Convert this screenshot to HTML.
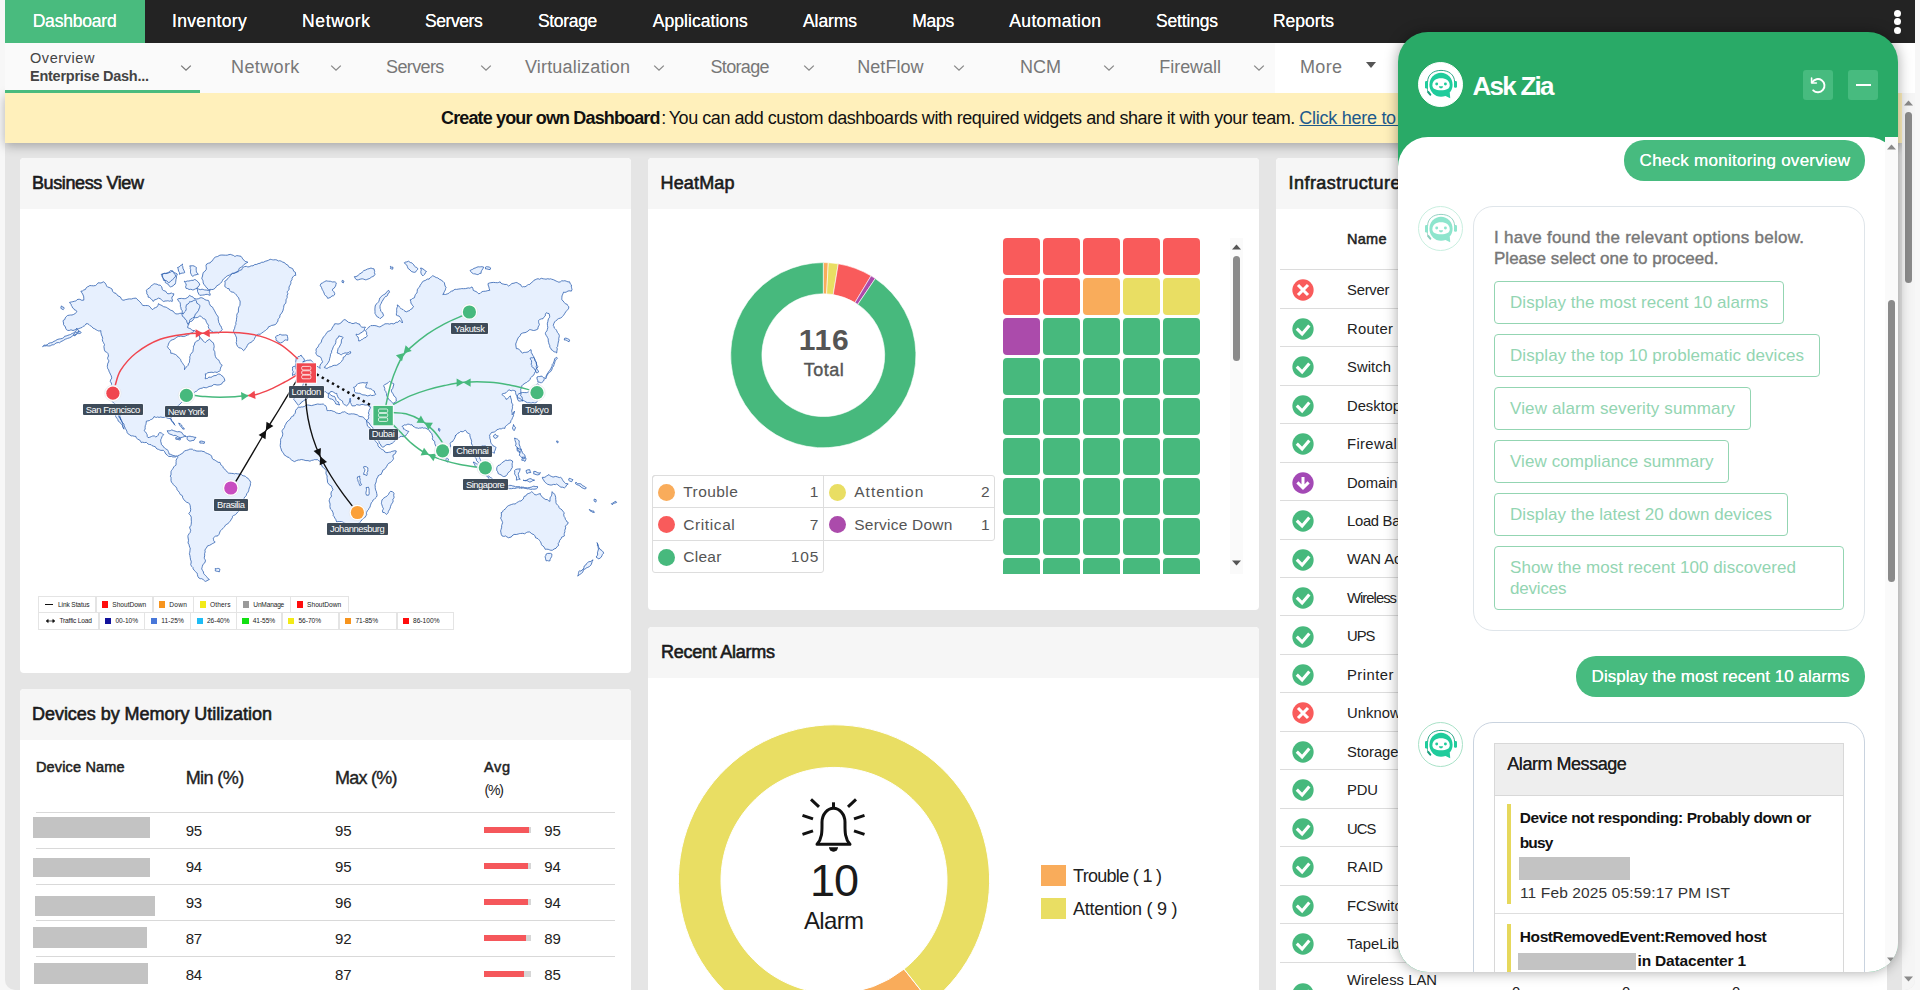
<!DOCTYPE html><html><head><meta charset="utf-8"><title>Dashboard</title><style>
html,body{margin:0;padding:0}
body{width:1920px;height:990px;overflow:hidden;position:relative;background:#f7f7f7;font-family:"Liberation Sans",sans-serif;}
.a{position:absolute;box-sizing:border-box}
.t{position:absolute;white-space:pre}
svg{position:absolute;overflow:visible}
.panel{position:absolute;background:#fff;border-radius:4px;overflow:hidden}
.ph{position:absolute;left:0;top:0;right:0;height:51px;background:#f6f6f6}
</style></head><body>
<div class="a" style="left:5px;top:0;width:1910px;height:990px;background:#e5e5e5;border-radius:0 0 10px 10px;overflow:hidden"></div>
<div class="panel" style="left:20px;top:158px;width:611px;height:515px"><div class="ph"></div></div>
<span class="t" style="left:32.00px;top:174.26px;font-size:18px;line-height:18px;color:#1b1b1b;letter-spacing:-0.395px;-webkit-text-stroke:.6px #1b1b1b;">Business View</span>
<div class="panel" style="left:20px;top:689px;width:611px;height:320px"><div class="ph"></div></div>
<span class="t" style="left:32.00px;top:705.26px;font-size:18px;line-height:18px;color:#1b1b1b;letter-spacing:-0.039px;-webkit-text-stroke:.6px #1b1b1b;">Devices by Memory Utilization</span>
<div class="panel" style="left:648px;top:158px;width:611px;height:452px"><div class="ph"></div></div>
<span class="t" style="left:660.50px;top:174.26px;font-size:18px;line-height:18px;color:#1b1b1b;letter-spacing:0.159px;-webkit-text-stroke:.6px #1b1b1b;">HeatMap</span>
<div class="panel" style="left:648px;top:627px;width:611px;height:380px"><div class="ph"></div></div>
<span class="t" style="left:661.00px;top:643.26px;font-size:18px;line-height:18px;color:#1b1b1b;letter-spacing:-0.254px;-webkit-text-stroke:.6px #1b1b1b;">Recent Alarms</span>
<div class="panel" style="left:1276px;top:158px;width:611px;height:850px"><div class="ph"></div></div>
<span class="t" style="left:1288.50px;top:174.26px;font-size:18px;line-height:18px;color:#1b1b1b;letter-spacing:0.458px;-webkit-text-stroke:.6px #1b1b1b;">Infrastructure</span>
<svg style="left:0;top:0" width="1920" height="990"><g fill="#e7f0fe" stroke="#2d5fb0" stroke-width="0.8" stroke-linejoin="round"><path d="M100.9 330.7L99.6 330.9L98.3 330.9L97.5 330.5L96.2 329.8L94.5 328.7L93.1 328.2L91.5 326.4L90.4 325.9L89.1 324.6L87.6 323.7L86.0 323.8L85.3 325.1L84.5 325.8L83.2 326.3L82.3 327.3L80.3 328.1L78.7 328.6L77.5 329.2L76.4 329.6L76.1 330.6L75.0 332.0L73.7 332.8L72.6 333.3L71.3 333.9L70.5 334.5L69.4 334.8L67.9 335.3L66.1 336.0L64.7 336.2L63.4 337.9L62.3 338.4L60.2 338.9L59.1 339.0L57.1 339.6L55.3 340.8L54.1 341.3L52.9 342.0L52.0 342.7L50.4 342.8L48.8 343.3L48.1 343.8L47.1 344.9L45.5 345.2L44.4 345.1L43.5 345.7L42.6 346.7L43.8 345.9L45.9 345.9L46.8 345.7L48.3 346.0L50.2 345.9L52.0 344.8L53.4 344.8L54.3 344.4L55.1 343.8L56.1 343.0L58.3 342.5L59.6 342.8L60.9 341.6L63.2 340.6L63.9 340.1L65.3 339.2L66.3 338.9L67.5 338.4L69.5 337.8L71.5 336.9L72.4 335.8L73.5 335.5L74.7 334.9L76.1 334.4L77.4 333.0L78.2 332.2L79.1 330.7L78.0 330.0L77.3 329.4L76.9 328.1L75.8 329.4L74.8 329.9L73.0 330.5L71.0 329.8L69.2 330.5L67.5 330.3L66.5 329.7L65.8 328.5L65.2 326.4L64.0 325.5L63.5 324.6L63.6 323.0L63.2 321.9L63.2 320.4L64.8 319.5L65.2 317.9L66.2 316.7L67.5 315.5L69.2 315.2L70.4 315.0L72.0 315.0L73.7 314.4L75.3 313.4L76.3 312.5L76.9 311.3L75.8 310.3L74.7 310.1L73.7 308.5L72.6 307.9L72.0 306.4L71.4 305.6L71.2 304.3L70.5 303.8L69.5 302.4L71.6 301.9L72.8 301.7L74.6 301.2L75.7 301.1L76.9 299.8L78.0 299.3L79.8 299.3L81.0 299.9L81.8 300.3L83.8 300.1L83.8 298.2L83.6 296.1L83.0 295.0L82.7 294.0L81.8 292.8L80.9 291.2L82.4 291.0L83.7 290.0L85.4 289.5L85.9 288.2L87.5 286.8L89.0 286.2L89.8 285.5L91.5 285.7L93.5 285.8L95.6 285.5L97.3 283.9L98.1 282.8L101.0 283.0L103.5 281.8L104.7 282.6L105.9 284.2L106.2 285.1L106.8 286.3L107.5 287.0L109.1 287.4L110.5 288.1L112.1 289.1L112.5 291.2L113.3 292.0L114.1 292.9L116.0 293.4L117.3 295.0L118.1 296.0L119.0 296.3L120.3 296.9L121.4 298.8L122.4 300.1L124.0 300.2L125.5 299.6L126.9 299.4L127.9 299.1L129.3 298.9L131.4 299.0L133.3 298.4L135.1 298.2L136.1 298.1L137.0 299.2L138.1 300.1L139.0 301.0L139.9 301.8L141.3 303.4L141.8 304.5L142.9 305.4L144.1 305.6L145.5 305.5L147.7 305.6L148.6 305.8L149.9 306.7L150.8 307.9L151.8 309.1L152.8 309.6L154.0 308.2L155.5 307.6L156.8 307.1L157.9 305.6L158.5 303.6L159.9 304.7L160.9 305.0L162.0 305.6L163.6 306.7L165.2 307.0L166.5 307.3L167.2 308.0L169.0 309.0L170.5 310.1L171.9 310.6L173.1 311.1L174.2 312.7L175.9 313.9L177.3 313.9L178.2 313.9L179.6 313.4L181.3 313.2L183.3 313.9L184.4 312.1L185.4 311.2L186.1 309.8L186.2 308.6L185.9 307.5L186.2 305.9L186.5 304.7L188.1 304.0L189.2 302.8L189.7 301.5L190.6 301.8L192.0 301.5L193.6 300.5L195.4 299.8L196.4 301.1L196.8 303.2L198.4 304.0L199.7 305.3L199.8 306.7L199.5 307.8L198.9 309.0L198.4 310.7L197.2 312.1L196.6 313.2L195.4 313.9L195.1 314.9L194.6 316.3L194.2 318.2L192.9 320.1L191.9 321.2L190.7 321.4L189.7 322.1L188.8 323.4L188.7 324.7L187.9 325.9L187.6 327.6L189.5 328.4L190.3 328.6L191.4 329.6L192.4 330.3L194.5 330.7L195.4 331.8L196.5 332.4L197.4 332.7L198.7 334.2L199.1 335.3L199.7 336.7L200.3 338.0L201.9 339.0L202.4 340.3L203.9 341.4L205.2 342.7L205.7 342.0L206.9 341.0L208.1 340.1L209.4 339.3L210.2 339.8L211.2 341.2L212.2 342.1L213.1 342.5L213.7 343.9L214.0 345.3L214.2 346.6L213.8 348.5L213.7 349.9L214.8 351.7L214.9 352.8L215.0 354.9L215.4 356.4L216.2 358.1L217.8 359.5L218.9 360.2L219.4 361.5L220.3 363.5L221.1 364.6L222.3 365.4L221.0 366.6L220.6 368.2L220.2 369.5L220.3 370.5L219.1 371.4L218.2 371.6L217.1 372.5L215.7 372.1L214.5 372.1L213.3 372.6L212.0 372.2L209.9 372.4L207.8 372.7L206.5 373.8L205.2 373.9L205.5 374.9L205.5 376.7L205.2 378.8L206.3 378.5L207.5 378.4L208.9 377.1L210.4 377.3L212.0 377.0L212.7 376.3L214.0 375.7L216.1 375.5L217.6 374.4L218.9 373.9L220.6 374.6L221.9 375.8L223.1 376.6L223.8 377.7L224.4 378.8L224.9 380.8L222.5 382.4L221.8 383.9L220.9 384.3L219.2 384.9L217.0 385.0L214.8 384.5L213.4 384.7L212.0 386.0L210.9 386.2L209.1 386.5L207.7 387.2L206.7 387.7L205.2 387.7L203.3 387.4L202.2 388.2L200.8 388.3L199.9 388.7L198.3 389.4L197.6 390.3L196.4 391.3L195.2 391.7L194.0 392.8L191.2 394.5L189.9 396.0L187.8 396.6L186.4 396.6L183.3 400.0L181.9 402.1L179.2 404.8L175.8 407.7L175.5 408.7L175.8 410.4L174.6 411.5L173.9 413.4L173.0 415.3L172.2 416.5L171.0 417.3L170.7 418.8L171.1 420.0L171.8 421.6L173.3 422.7L173.9 424.0L175.2 425.3L174.4 424.6L174.1 423.3L173.0 421.9L171.7 420.4L171.4 419.2L170.1 418.6L168.3 418.4L166.2 417.6L165.3 416.9L164.1 417.4L162.1 417.4L160.9 417.0L159.1 417.4L157.5 417.0L156.6 417.4L155.3 417.2L154.1 416.5L153.4 418.1L151.6 419.4L150.4 419.7L149.6 420.5L147.8 420.9L146.4 421.1L146.1 423.3L146.0 424.2L145.3 425.6L145.1 427.3L145.2 429.0L144.1 430.7L145.7 432.1L146.4 433.3L147.1 434.6L147.3 436.6L148.0 437.6L149.7 437.3L151.5 436.5L152.6 436.0L154.3 435.9L155.7 436.9L157.2 436.3L158.0 435.4L158.8 433.5L159.5 432.6L161.3 432.9L162.4 433.9L163.7 434.5L162.9 435.5L162.1 436.5L161.3 438.6L160.8 439.5L160.7 441.3L161.2 443.0L161.4 444.6L162.8 445.7L163.6 447.0L164.5 448.0L165.8 448.9L167.1 449.7L168.1 450.5L168.4 451.6L168.8 452.7L169.1 454.1L170.4 454.3L172.1 455.1L173.9 455.7L175.7 456.1L176.8 456.0L175.2 457.1L174.1 456.9L172.9 457.0L171.4 456.4L170.0 456.5L168.6 456.4L167.2 455.1L165.9 454.1L165.3 453.0L164.4 451.3L163.3 450.3L160.9 450.4L159.3 449.8L158.4 449.3L157.1 449.0L156.0 448.0L155.3 446.7L153.8 446.3L151.8 445.5L151.1 444.7L149.6 444.5L148.1 444.1L146.4 442.4L144.5 442.6L142.5 442.2L141.3 442.6L140.3 440.6L137.6 439.0L136.2 437.8L135.9 436.4L134.3 436.3L132.5 435.8L131.2 435.9L129.8 434.9L127.7 433.5L127.0 432.3L126.9 431.2L126.3 430.1L125.5 428.6L124.2 425.9L124.0 424.4L123.0 423.0L121.5 421.8L121.2 420.5L120.6 418.4L119.5 417.5L119.2 416.5L120.2 417.5L120.7 419.0L120.7 420.0L120.2 417.5L119.8 416.2L120.2 414.2L120.0 411.5L119.5 410.6L118.0 409.4L117.1 407.4L116.4 406.2L115.4 404.2L114.2 403.5L112.6 401.9L111.4 399.6L111.1 398.1L111.3 397.2L111.5 395.6L111.2 394.5L111.3 393.3L111.6 391.8L111.8 390.3L112.5 389.5L112.6 388.0L112.1 386.0L111.5 384.4L111.4 383.0L110.3 381.7L110.5 380.0L111.8 378.1L111.6 377.2L111.2 375.7L110.3 374.1L109.8 372.8L109.2 371.9L108.7 369.9L107.8 368.8L107.5 367.6L107.3 366.5L107.5 364.9L107.9 363.1L108.7 361.9L108.7 360.4L108.0 359.4L107.6 358.4L107.9 357.1L108.5 356.0L108.2 354.4L107.8 353.3L106.7 352.2L105.2 351.6L104.4 349.9L104.1 348.0L103.9 346.6L104.5 344.5L103.7 343.2L103.4 342.4L102.7 341.3L102.3 339.5L102.7 338.5L102.2 336.5L101.4 334.9L101.1 333.2L100.8 332.2ZM114.4 413.4L115.5 415.2L115.8 416.8L116.9 418.2L117.9 419.7L118.2 421.1L119.2 421.5L120.1 422.9L121.6 424.1L122.4 425.3L122.6 426.5L123.0 427.7L124.0 429.2L123.9 427.8L122.9 426.4L122.9 424.9L122.6 423.0L122.1 422.1L122.0 420.8L120.7 419.8L120.5 418.9L119.2 417.7L118.8 415.7L118.1 414.8L116.9 414.2L115.6 414.1ZM224.7 281.2L226.6 280.2L227.5 278.6L228.5 277.8L229.6 276.9L230.5 275.3L232.4 273.5L233.9 273.4L234.7 272.8L236.1 272.0L238.4 271.8L239.8 270.3L241.8 269.7L242.3 268.3L242.7 267.5L244.8 266.5L246.5 266.4L247.7 266.9L249.2 266.8L250.0 266.3L251.4 265.8L253.0 265.8L254.8 264.5L256.8 264.4L258.1 263.6L260.0 263.3L261.8 262.2L263.3 262.3L265.2 261.3L267.0 260.8L268.6 260.2L270.2 259.3L271.4 259.5L272.6 259.8L273.6 259.9L275.3 259.7L276.9 260.0L278.4 261.0L279.6 260.7L280.8 261.0L281.6 261.4L282.7 262.1L284.5 262.6L285.6 264.0L287.9 265.2L289.2 267.3L291.0 267.9L292.7 268.7L293.8 271.4L295.5 272.4L295.5 274.1L295.9 275.2L294.2 275.6L292.9 276.9L292.0 278.5L292.0 279.8L290.8 281.2L290.9 282.7L290.8 283.6L290.0 285.2L289.0 287.1L289.1 289.2L288.6 290.3L287.3 291.5L287.3 292.5L287.9 293.7L287.0 295.8L287.2 297.6L286.7 298.5L286.0 299.8L286.0 301.9L285.6 303.5L284.5 304.2L283.8 306.0L283.7 307.5L283.4 308.7L282.9 310.8L282.2 312.1L281.4 313.6L280.0 314.8L279.8 317.2L278.6 318.6L277.9 319.8L278.0 321.0L277.0 322.4L276.5 323.5L275.0 324.7L273.0 325.2L271.3 325.5L270.3 326.2L268.5 326.8L267.9 328.4L266.7 329.3L265.6 330.4L264.6 331.0L263.4 331.9L261.6 333.2L260.1 334.3L258.5 334.2L256.4 335.3L255.5 336.7L254.6 338.2L254.4 339.3L253.6 340.0L252.4 341.4L251.0 342.4L249.6 343.0L248.3 343.8L247.3 345.5L246.4 347.3L245.4 348.5L244.7 349.7L243.6 350.7L243.0 350.0L241.7 348.6L240.6 348.1L238.8 347.7L237.6 346.4L236.7 344.7L236.2 342.4L236.6 341.3L236.5 339.4L236.6 337.9L235.5 335.3L234.7 333.8L234.1 332.7L233.6 331.7L233.7 330.1L234.5 328.7L234.9 326.8L235.3 325.4L235.9 324.4L235.8 322.4L236.3 321.1L236.5 319.3L236.6 317.8L237.0 317.0L236.7 315.6L237.1 313.8L238.4 312.1L238.4 308.9L238.9 306.9L239.9 305.4L240.1 303.1L240.1 301.0L239.1 299.5L238.7 297.9L237.6 296.7L236.8 295.7L236.3 294.7L235.5 293.9L234.3 293.0L233.1 292.0L232.1 292.2L230.7 291.5L229.6 290.4L229.1 288.7L227.2 288.5L225.9 287.2L224.7 286.4L224.9 285.3L225.1 283.5L225.1 282.4ZM203.2 272.6L204.9 271.3L206.3 269.4L206.3 267.9L206.1 266.4L206.0 265.4L206.7 264.0L208.5 263.2L210.2 262.9L210.8 261.8L212.5 260.7L213.0 259.7L213.8 258.4L215.2 257.2L216.2 256.8L217.4 256.6L219.0 255.7L219.9 255.2L221.9 255.0L225.4 255.2L227.2 255.2L229.0 254.6L230.8 254.4L231.8 254.9L233.4 255.4L234.3 256.2L235.8 256.2L236.7 255.6L238.2 255.8L241.0 256.3L242.1 257.8L242.7 258.9L243.8 260.0L245.2 261.5L246.4 261.6L247.9 262.3L247.0 262.5L245.9 263.4L244.1 264.4L243.1 265.7L242.2 266.5L241.1 267.3L239.3 268.3L238.7 270.0L237.2 272.0L235.7 272.7L234.8 273.2L232.7 273.2L231.9 273.7L230.7 274.3L229.4 275.1L227.7 275.7L226.8 276.1L225.8 277.1L224.9 278.0L223.4 279.1L222.6 280.3L222.1 281.2L221.7 282.1L220.7 283.1L219.5 283.9L218.6 285.0L216.7 285.8L216.2 286.8L215.2 288.1L213.9 289.1L211.9 289.7L211.1 289.3L209.6 289.5L208.4 289.8L207.2 288.0L206.2 287.4L205.5 286.3L204.4 284.9L203.8 284.2L203.2 282.9L203.1 281.6L202.9 280.5L202.2 279.2L201.7 278.1L202.2 277.2L202.5 276.0L202.9 273.9ZM161.2 274.3L162.9 274.1L164.0 273.4L165.9 273.6L167.3 273.4L169.0 272.7L170.5 272.2L171.3 271.7L172.3 270.9L173.0 272.2L173.8 272.9L175.1 274.6L175.8 276.4L174.6 277.2L174.1 278.2L172.6 279.6L170.9 280.8L169.8 282.1L168.9 282.9L168.1 282.2L166.7 280.9L165.6 280.5L163.7 280.5L163.2 279.0L162.8 277.7L162.1 276.6L161.7 275.4ZM177.5 267.5L179.2 267.0L180.6 265.4L181.5 265.0L182.6 264.0L182.1 265.7L182.8 266.7L182.9 268.2L183.8 270.1L184.2 270.9L184.7 272.6L183.5 273.0L182.1 273.1L180.9 273.4L179.5 274.3L179.4 272.4L178.7 271.4L178.3 270.0L178.2 268.9ZM184.3 281.2L185.6 281.6L187.4 281.0L188.8 281.0L190.5 280.6L191.8 280.3L193.1 280.4L194.6 279.5L196.0 280.0L196.7 280.7L197.9 281.7L199.1 283.1L199.8 285.0L198.6 285.9L198.1 287.0L197.0 288.1L195.2 289.0L194.1 289.5L192.9 290.1L192.1 289.6L190.6 289.3L189.1 289.5L187.3 288.5L186.1 288.4L185.6 286.8L186.1 285.4L186.1 283.7L184.9 282.5ZM189.8 265.8L191.0 265.9L192.5 265.7L194.5 266.1L195.5 267.1L196.4 267.5L196.1 269.1L196.3 270.5L196.4 271.9L197.0 272.9L198.4 274.3L197.2 274.4L196.0 274.8L194.3 275.2L192.9 276.4L191.8 275.7L191.3 274.5L190.5 272.9L190.5 271.1L190.7 269.7L190.2 268.5L190.3 267.5ZM196.7 288.4L198.3 288.9L200.2 289.7L202.1 289.2L203.2 289.5L204.5 289.9L206.9 290.1L208.7 290.6L210.1 290.1L209.7 291.3L209.3 292.4L210.2 294.1L210.1 295.3L208.9 294.9L207.5 294.4L205.8 294.4L204.3 294.9L202.4 295.1L201.2 295.2L199.8 295.3L198.9 294.3L198.3 293.0L197.5 291.4L197.5 289.8ZM162.2 274.0L163.2 273.7L164.3 273.3L165.8 273.3L167.1 272.9L168.5 272.3L169.7 271.3L170.5 270.6L171.5 270.6L173.2 271.4L174.4 272.6L175.7 273.2L177.3 274.0L176.7 275.6L176.4 276.8L176.4 278.2L176.0 279.3L175.8 281.1L175.6 282.6L175.1 284.2L173.8 284.9L173.2 285.8L171.8 286.5L170.5 286.9L168.8 285.5L167.8 283.9L166.7 283.4L165.3 282.6L165.3 281.8L165.0 280.4L163.8 278.9L162.6 277.3L162.5 275.4ZM146.4 290.3L147.8 288.8L149.6 288.0L150.6 286.5L151.3 285.6L152.3 285.1L153.3 284.3L154.8 283.7L155.6 284.0L157.1 284.2L158.1 285.0L160.2 285.2L161.5 286.5L162.1 288.1L162.1 289.3L163.3 290.4L165.8 291.3L166.7 292.9L167.9 293.8L169.8 293.6L171.3 293.0L172.5 293.7L173.9 293.8L173.3 295.8L172.0 296.8L171.9 298.5L172.5 300.2L172.2 301.5L170.7 300.8L169.6 301.2L168.4 300.9L167.3 300.8L166.2 301.0L165.1 301.0L163.6 301.5L162.4 300.6L161.4 299.7L160.2 298.7L158.5 298.1L156.7 299.2L154.9 299.8L154.0 300.2L153.3 301.5L152.3 300.1L150.9 298.6L149.3 297.4L148.2 297.2L148.0 295.4L146.8 293.7L146.8 292.1ZM177.5 299.2L178.8 298.6L181.5 298.4L182.8 298.6L184.3 298.7L185.8 298.5L187.8 297.3L189.0 296.3L189.5 295.3L191.2 296.4L192.6 296.7L193.7 298.1L195.0 298.7L196.3 299.0L198.3 298.8L200.1 297.9L201.3 297.7L203.2 298.3L204.9 299.6L206.3 300.2L208.4 300.4L209.2 302.1L209.3 303.4L210.5 305.8L212.6 307.2L213.3 308.7L214.2 310.2L215.2 312.1L216.0 313.8L216.7 314.8L217.6 316.0L218.3 317.1L218.1 319.0L218.6 321.2L218.7 322.4L219.7 323.9L219.8 325.2L220.9 326.0L221.4 327.2L221.5 328.1L222.4 329.3L221.4 330.7L220.2 331.6L218.7 333.0L217.3 332.2L216.2 332.2L214.6 332.2L213.3 332.3L211.8 331.3L210.3 330.6L209.8 329.3L208.8 328.3L208.2 326.5L208.6 325.3L207.5 324.0L206.7 322.7L206.0 321.1L205.8 319.9L205.0 319.1L203.4 318.6L202.0 317.5L200.8 316.1L199.8 315.9L198.8 316.7L197.2 317.6L195.5 317.7L194.5 317.0L192.9 317.6L192.2 318.4L190.6 319.1L189.7 320.2L189.6 321.3L189.0 323.1L188.1 324.5L187.3 323.0L186.8 322.0L186.7 320.5L185.2 319.3L184.3 317.6L183.2 317.0L182.5 316.2L181.9 314.4L182.3 312.3L182.2 310.7L180.9 309.0L181.1 308.0L180.4 306.5L180.4 304.2L180.0 302.6L178.6 301.1ZM275.3 337.0L276.8 335.8L278.4 335.4L279.1 334.7L280.5 334.4L281.9 335.1L283.0 335.0L284.3 335.0L285.5 334.9L287.3 335.3L287.5 336.5L287.8 338.4L287.7 340.4L286.3 340.0L285.4 339.9L284.1 340.6L283.4 341.6L282.3 342.3L280.5 343.0L278.4 342.3L277.7 341.1L276.2 340.4L276.0 339.5L276.1 338.1ZM320.0 285.5L321.1 283.5L322.4 283.0L323.7 282.1L324.7 281.6L326.1 280.8L327.6 281.1L328.5 281.2L330.6 281.3L331.7 281.7L332.7 282.0L334.2 281.8L335.5 282.2L336.3 282.9L335.9 284.6L335.6 286.1L334.8 287.0L334.4 288.0L332.9 289.0L332.0 289.8L333.0 290.7L333.7 291.5L334.7 293.4L334.5 294.9L333.4 295.8L331.9 295.9L330.7 297.3L328.8 298.0L327.7 298.4L326.8 296.5L325.6 295.8L324.5 294.5L324.1 293.1L323.4 291.5L322.8 290.5L322.2 289.4L321.6 287.7L320.9 286.2ZM177.7 455.7L179.4 455.1L181.1 454.0L182.7 453.2L183.8 451.7L184.5 450.9L186.4 450.4L188.3 449.9L189.2 449.3L190.8 449.1L192.4 449.2L193.7 450.3L194.6 450.2L196.0 450.9L197.9 451.1L199.8 451.1L201.5 451.0L203.0 451.5L204.0 451.5L205.6 452.8L207.4 453.5L209.2 454.3L210.5 454.9L211.6 456.1L212.1 458.1L213.2 459.5L214.9 460.0L215.8 460.8L216.9 461.4L218.1 462.3L220.0 462.4L220.5 463.7L220.7 464.7L221.7 465.3L222.8 466.5L223.3 468.0L224.8 469.1L225.7 470.2L227.3 472.1L228.7 473.2L229.8 473.2L231.8 473.4L233.2 473.5L234.4 473.9L235.4 473.5L237.4 473.8L239.5 474.1L240.6 473.8L242.2 475.4L243.8 475.9L245.2 476.1L245.9 476.8L246.7 477.7L247.8 478.1L248.9 479.5L250.1 481.0L250.7 482.5L250.4 483.6L250.4 485.1L249.9 486.5L249.3 487.9L248.9 489.4L248.8 490.2L248.1 492.1L246.8 493.6L246.2 495.6L245.3 496.7L244.0 497.9L243.9 499.5L243.8 501.2L243.9 502.2L243.2 503.2L242.7 504.9L242.3 506.1L242.0 507.5L241.4 508.4L240.6 509.7L239.3 510.5L238.0 511.7L236.9 513.1L235.5 514.6L234.4 515.2L233.4 515.6L232.4 516.4L232.4 517.7L231.4 519.1L230.9 520.1L229.8 521.5L228.6 522.8L227.6 524.0L226.1 524.6L225.4 525.2L224.6 526.7L223.7 527.5L222.8 528.6L221.8 529.4L221.2 530.2L220.1 531.2L219.5 533.1L219.0 534.4L218.0 535.7L217.0 536.0L215.4 536.2L214.1 537.3L213.2 538.2L213.5 539.3L213.6 540.4L214.3 541.5L215.2 542.0L214.2 542.8L213.3 543.2L212.3 543.7L211.2 544.4L209.6 545.3L207.5 545.9L207.1 546.8L206.3 548.0L205.7 548.8L204.9 550.1L205.2 551.9L204.6 553.6L204.7 555.9L204.3 557.2L204.4 558.5L205.1 559.6L205.5 560.9L205.0 562.1L204.6 563.1L202.9 564.5L202.3 566.5L202.0 567.7L201.7 568.9L202.5 570.4L203.5 572.0L203.6 573.4L204.6 574.7L205.7 575.6L206.4 576.4L207.2 577.4L208.1 578.7L209.4 579.5L208.2 580.0L207.0 580.7L205.6 581.4L204.5 580.8L203.2 579.5L201.4 578.6L200.3 578.7L198.8 577.9L197.9 576.6L197.4 574.5L197.2 573.2L196.4 572.7L195.4 571.5L194.2 570.2L193.1 568.9L193.0 567.6L192.0 566.5L191.0 565.6L190.7 564.5L191.1 563.0L191.2 561.1L190.6 559.9L190.2 557.4L189.9 555.5L189.4 553.6L189.8 552.2L190.0 550.4L190.1 549.1L190.3 548.0L189.7 547.3L189.3 545.9L188.9 544.3L188.0 543.0L188.5 540.3L188.1 538.0L187.9 536.6L188.0 535.6L189.1 533.7L190.2 532.4L190.4 531.3L190.7 530.3L190.0 528.7L189.6 527.0L190.8 525.8L191.2 524.3L191.4 521.7L191.2 519.0L191.3 517.2L190.3 515.2L189.3 514.3L188.8 513.4L190.3 511.7L190.7 509.5L190.4 507.8L190.2 505.6L189.6 504.1L188.5 502.8L186.8 502.4L185.0 500.8L183.8 499.7L183.4 498.9L182.6 497.5L182.5 496.0L181.9 495.3L180.5 494.7L179.8 493.7L179.3 492.3L178.0 490.8L177.1 489.9L176.8 488.3L175.6 486.5L174.6 485.9L173.2 484.4L172.6 483.2L171.5 482.4L171.0 480.6L171.0 478.5L171.0 477.3L170.2 476.1L171.0 474.9L171.0 472.9L171.0 471.6L171.4 470.7L172.3 469.5L172.8 468.7L173.9 466.8L174.8 465.8L175.8 465.3L176.1 464.2L176.0 462.8L176.2 461.6L176.1 460.3L176.8 458.8L177.7 457.6ZM167.2 430.7L169.1 430.9L170.4 430.6L171.8 429.9L173.7 430.7L175.1 431.1L176.8 431.7L177.6 431.8L179.0 431.6L180.2 431.9L181.7 432.4L182.9 434.5L184.2 435.4L185.1 435.6L186.4 436.5L184.2 436.6L182.3 437.3L180.6 437.6L179.0 437.3L178.0 436.9L176.2 435.7L175.1 435.3L173.3 435.6L172.1 434.8L171.0 434.5L169.1 433.7L168.0 432.7ZM187.3 436.5L188.7 436.3L190.1 436.2L191.2 436.6L192.8 436.7L194.0 437.2L196.0 437.4L194.9 438.7L194.0 440.3L192.1 440.5L190.9 441.0L189.1 440.9L188.1 440.0L187.3 439.5L187.1 438.4ZM298.4 406.9L300.0 407.4L301.2 406.9L302.2 407.0L304.2 406.6L305.4 405.7L306.4 405.0L308.0 405.0L311.5 405.6L314.2 404.9L316.0 404.4L317.7 404.0L319.8 404.3L321.5 404.2L323.3 404.0L324.5 405.2L325.7 405.7L326.1 406.6L326.6 407.8L326.8 409.7L327.2 410.7L328.3 410.5L329.5 410.6L331.2 410.5L333.3 411.3L334.7 411.7L336.2 412.9L337.5 413.2L338.7 413.6L340.4 413.4L341.2 412.9L342.2 412.1L343.3 412.1L344.5 411.7L345.6 412.3L346.6 413.0L348.5 414.0L350.1 414.1L351.2 413.8L352.4 413.9L353.8 413.9L356.0 414.5L357.6 415.0L358.9 416.2L361.0 416.7L362.3 416.8L363.6 417.4L364.1 418.3L365.2 419.3L366.4 420.0L366.7 421.5L367.0 423.9L367.5 426.1L369.1 427.4L370.3 428.0L370.5 429.8L371.4 431.0L372.4 432.3L372.9 434.5L372.8 435.6L373.2 437.6L373.8 439.2L374.7 440.0L375.5 441.4L377.3 443.0L377.9 444.1L378.0 445.6L379.0 447.2L380.7 448.4L381.5 449.2L382.7 449.7L383.9 450.4L384.8 452.0L386.9 452.7L388.4 452.4L389.6 452.2L390.8 452.0L391.8 451.3L392.9 451.2L394.8 450.7L396.3 451.0L395.6 453.0L394.6 454.3L393.0 455.1L393.0 457.1L393.6 458.3L393.0 459.7L392.4 460.6L391.5 461.5L390.2 462.6L388.7 463.3L387.8 464.3L386.8 466.2L385.3 468.5L384.1 469.5L382.8 470.2L382.3 472.0L381.5 473.2L381.5 474.1L379.4 475.0L378.2 475.7L377.9 477.2L377.1 477.9L376.6 479.3L376.4 480.2L376.2 481.8L375.7 483.1L374.9 485.0L375.2 485.9L375.2 487.5L375.4 489.1L375.8 490.3L376.4 491.7L376.7 493.4L377.1 495.2L376.5 497.0L375.1 498.4L374.3 499.3L372.8 500.3L372.5 501.6L371.3 502.8L370.6 504.9L370.3 505.8L370.0 507.1L369.0 508.4L368.5 509.7L367.5 510.5L366.6 512.4L366.5 513.6L366.7 514.7L365.7 516.1L365.4 517.1L363.6 518.2L362.9 519.1L361.7 519.6L361.2 521.0L360.4 521.7L359.8 523.0L358.5 523.3L356.1 524.3L354.0 525.0L350.9 525.2L348.6 524.4L347.2 524.1L345.5 523.4L344.5 523.0L342.7 522.0L341.4 521.5L339.8 521.5L338.1 521.5L336.8 522.0L336.1 520.8L336.2 519.7L334.9 518.5L334.3 516.8L333.1 515.5L333.4 514.3L332.9 512.4L332.2 510.9L331.6 510.0L330.4 508.9L329.9 506.4L330.1 504.2L329.8 502.9L329.1 500.9L329.5 499.4L329.7 498.4L330.9 497.3L331.5 496.1L330.9 494.1L331.4 491.6L332.4 490.7L332.9 489.4L332.0 487.6L331.5 486.0L329.1 484.6L327.5 482.3L327.4 480.0L327.1 478.5L327.0 477.6L327.2 476.0L326.5 474.9L325.9 473.2L326.1 471.9L326.2 470.5L325.4 469.5L323.7 467.9L322.2 466.7L321.4 464.5L320.7 463.5L320.3 461.5L318.7 460.7L317.6 459.7L315.8 459.7L314.5 459.6L313.4 460.1L311.5 460.4L310.0 461.2L308.0 460.6L305.9 460.6L303.5 459.9L301.3 459.5L299.7 460.0L298.2 460.0L296.3 460.7L294.5 461.6L293.2 461.0L292.1 460.3L291.3 459.8L290.2 458.8L289.0 457.4L287.9 457.2L286.9 456.8L286.3 456.0L284.6 455.3L283.8 453.9L283.1 452.5L281.8 451.3L281.1 448.9L280.5 447.4L280.2 445.3L280.6 442.2L280.6 440.4L280.6 439.3L281.5 437.7L282.3 436.4L282.7 434.7L282.7 433.2L282.1 431.8L282.2 430.4L283.3 429.0L284.5 427.5L284.9 425.6L285.7 424.3L286.8 422.1L288.8 420.3L290.4 419.0L290.9 417.5L292.1 416.4L293.5 416.0L294.0 414.5L295.3 413.1L295.4 412.1L295.5 410.7L296.5 409.1L297.4 408.5ZM382.8 499.0L383.9 498.0L385.0 497.3L385.6 496.9L386.9 496.2L387.6 495.4L388.4 494.6L389.3 492.7L390.5 491.3L392.5 491.7L394.0 493.2L393.7 495.4L394.1 497.3L393.8 498.3L392.8 499.2L393.1 500.7L393.0 502.0L392.4 502.8L391.3 504.5L390.6 506.3L390.1 508.3L389.3 509.8L388.4 511.3L388.2 512.6L387.4 513.7L386.7 514.4L385.6 513.7L384.7 512.7L382.8 512.4L382.4 510.8L383.0 509.7L383.4 508.4L382.6 507.2L382.4 506.4L381.9 504.8L381.4 503.5L381.5 502.7L381.7 501.3L382.0 500.0ZM315.8 353.0L316.3 351.5L316.0 350.3L316.3 348.6L318.1 346.9L318.6 345.5L318.9 344.8L320.0 343.6L321.3 342.1L321.8 339.8L322.5 338.9L323.2 337.2L324.1 336.6L324.8 335.6L325.6 334.5L326.9 332.4L328.1 331.4L330.1 330.7L331.7 329.4L332.0 328.2L332.8 326.9L334.0 325.2L334.6 323.8L336.8 323.8L338.0 324.1L339.8 323.6L341.8 322.2L342.7 320.7L343.6 320.1L344.9 319.5L346.0 320.3L347.0 321.1L348.6 322.4L350.5 322.7L351.6 323.4L353.1 323.6L355.4 322.8L357.0 323.0L357.8 323.8L359.6 324.0L359.9 325.3L361.5 326.9L363.1 327.4L364.0 327.1L365.5 327.3L364.5 328.6L364.3 330.6L362.8 331.3L362.1 332.4L360.4 332.9L359.6 334.0L358.5 334.4L357.3 334.5L356.1 334.1L356.4 335.5L357.0 336.4L358.2 337.1L358.4 338.6L358.6 339.5L358.7 341.0L360.3 340.7L361.2 339.8L362.4 339.4L363.7 338.3L364.6 337.8L366.0 337.4L367.3 335.8L366.6 334.5L366.6 332.5L365.5 330.7L366.6 329.5L367.6 328.5L368.5 327.3L369.9 326.5L370.8 325.6L372.5 325.6L374.1 325.5L376.2 325.8L378.3 326.6L379.7 326.9L381.1 326.4L382.0 325.5L383.3 325.0L385.0 323.8L386.1 323.8L387.7 323.7L389.5 324.1L391.3 323.5L393.9 323.9L396.1 322.3L397.8 322.3L398.9 321.1L399.9 320.4L401.2 321.8L402.4 323.0L402.3 321.3L401.5 319.7L400.9 318.6L400.3 317.5L399.1 316.1L397.5 315.7L396.4 315.2L396.4 313.6L396.7 312.3L396.7 310.7L396.6 309.4L397.0 307.6L397.5 306.5L397.3 304.9L398.4 305.5L399.4 307.0L400.7 308.2L401.5 309.0L403.2 309.6L404.1 310.5L405.0 311.3L406.7 311.8L408.1 310.9L409.2 310.9L410.3 309.6L412.2 308.6L412.8 307.3L413.6 306.7L412.8 305.8L411.7 304.2L410.9 303.0L410.8 301.6L410.2 299.8L411.5 299.4L412.5 298.5L414.5 297.7L414.9 295.9L415.4 294.6L416.1 293.6L417.0 292.9L417.2 291.6L417.3 289.8L417.9 288.5L419.6 287.0L420.2 285.2L421.6 283.3L422.7 281.5L423.9 280.9L425.2 280.5L426.0 280.0L427.3 279.1L429.1 279.1L429.9 278.0L430.6 277.3L431.6 276.7L432.5 275.8L434.1 276.2L434.9 276.9L436.7 277.7L437.8 277.9L439.2 279.1L441.1 280.0L442.1 280.8L443.1 281.5L444.4 282.8L444.6 284.0L445.1 286.0L446.2 287.8L445.5 288.7L445.4 289.9L444.6 291.2L443.8 292.8L442.8 294.6L444.0 294.2L445.4 294.5L447.5 293.8L448.9 293.2L449.7 292.4L451.4 291.2L453.0 290.9L453.6 290.0L455.1 289.3L456.5 289.4L458.9 289.0L460.5 288.8L461.7 288.6L463.5 288.7L465.6 288.6L468.2 287.9L469.9 288.2L470.8 287.6L472.0 286.9L472.8 288.3L473.3 290.4L474.9 291.1L476.0 291.5L477.5 292.6L478.8 293.8L480.4 293.2L481.2 292.4L482.1 291.6L483.8 291.3L485.7 291.2L487.8 290.6L489.8 290.3L489.2 288.6L488.9 287.0L488.1 285.0L488.1 283.5L489.4 283.0L490.8 282.7L493.3 282.4L495.6 282.6L497.6 282.7L498.8 282.4L500.1 281.8L500.8 283.0L502.1 283.8L503.2 284.0L505.0 284.5L506.4 284.4L507.2 284.8L508.7 286.1L509.9 285.2L510.8 284.5L511.9 283.5L514.0 283.2L515.5 282.6L516.9 282.6L517.7 283.0L518.9 283.9L520.7 284.6L521.3 286.2L522.4 286.9L523.7 286.6L524.9 286.8L526.0 286.3L527.6 285.0L528.5 284.5L529.8 284.4L531.2 282.8L532.7 281.8L533.9 280.3L535.1 279.8L536.8 279.0L538.1 278.7L539.5 279.3L541.3 278.3L543.3 278.8L544.3 278.9L546.0 279.2L547.8 278.7L549.2 279.1L550.6 278.8L551.6 279.2L553.7 279.8L556.2 281.1L557.7 281.7L558.9 282.2L560.4 281.8L561.7 280.8L563.6 280.9L564.9 280.7L566.8 281.4L568.0 281.9L569.6 281.8L570.2 283.8L571.6 285.0L571.2 286.0L571.5 287.3L571.7 288.3L572.0 289.5L571.3 291.2L570.0 290.8L568.0 291.0L566.2 292.1L564.9 292.4L563.6 292.1L562.8 294.1L562.0 295.9L561.9 297.3L561.8 298.2L561.9 299.8L563.1 301.0L564.4 302.6L565.3 303.7L567.2 304.4L567.7 305.6L568.8 306.7L568.7 308.2L568.2 309.1L566.9 310.5L565.7 311.9L564.9 313.2L564.4 314.0L563.6 315.2L562.4 316.5L561.7 317.4L560.4 318.1L558.6 318.6L557.4 319.3L556.7 320.4L555.6 320.9L554.8 321.7L553.8 323.6L553.3 325.5L553.9 326.4L554.3 328.0L555.3 328.9L556.1 329.7L556.7 330.7L557.4 332.4L558.5 333.7L559.3 335.4L559.2 336.8L558.7 338.6L558.9 340.2L558.5 341.0L558.1 343.3L557.8 344.8L557.6 346.5L556.8 347.3L557.3 349.0L556.9 350.9L556.7 353.0L555.4 352.0L554.2 351.8L553.3 351.3L552.7 350.4L551.5 349.9L550.6 348.0L549.8 347.2L549.7 345.3L549.0 344.1L548.6 342.3L548.2 341.0L548.3 340.1L548.1 338.7L547.4 337.4L546.7 336.0L546.1 335.3L545.4 333.7L545.6 332.4L546.9 330.9L547.3 329.5L547.8 327.5L547.5 325.6L547.3 323.8L547.9 321.4L548.1 320.0L548.6 318.5L549.3 317.8L549.7 316.7L549.5 315.0L549.0 313.5L547.8 313.4L546.4 312.7L545.4 314.1L545.3 315.9L543.8 317.3L543.0 318.7L541.7 318.8L540.8 319.1L539.4 319.7L538.7 320.4L538.6 321.4L538.7 322.7L539.4 324.6L539.0 325.4L538.1 327.1L537.9 329.0L536.1 329.9L534.9 330.3L533.5 330.5L531.9 330.1L530.7 329.7L529.3 329.8L527.9 331.2L526.3 332.1L525.0 332.7L524.0 332.7L522.5 333.1L520.7 334.1L520.2 335.6L519.8 336.3L518.6 337.1L517.6 339.0L516.7 341.3L515.7 344.0L516.1 347.0L516.4 348.7L518.0 348.7L519.2 349.6L520.7 350.9L521.1 352.0L522.4 353.0L524.3 352.4L525.3 352.4L526.9 352.2L528.3 351.8L529.4 350.6L531.0 349.6L531.3 351.3L531.3 352.7L532.2 354.0L532.7 355.2L533.6 356.4L534.2 358.2L534.6 359.3L535.0 360.7L536.3 361.8L536.3 363.8L537.1 365.5L537.9 366.7L537.2 368.0L536.3 368.5L535.6 369.8L535.5 371.6L534.6 372.7L534.4 373.6L533.6 375.3L532.2 376.2L531.4 377.2L530.5 377.9L530.0 379.5L529.3 380.5L527.5 381.6L526.7 382.4L525.1 383.1L524.1 383.9L522.7 384.8L521.8 385.8L521.7 387.3L520.7 389.1L520.8 390.6L520.9 392.9L520.9 394.6L520.5 395.6L521.8 396.6L522.4 398.5L522.6 399.6L522.7 401.1L521.6 400.1L520.2 398.4L518.1 398.0L517.0 396.2L516.4 395.4L515.8 393.9L515.6 392.6L515.5 391.1L513.7 390.4L512.4 390.3L511.1 390.9L509.9 390.1L508.7 389.9L507.2 391.6L506.1 392.7L504.8 393.3L503.8 393.4L502.7 393.7L501.8 394.5L503.3 395.5L504.3 396.7L505.7 398.0L506.1 399.4L507.6 398.8L508.7 397.4L509.3 396.6L510.4 395.9L510.7 397.8L511.2 399.1L511.5 400.2L511.5 401.9L511.9 403.5L513.0 404.5L512.4 406.5L512.5 407.8L512.3 408.8L511.9 410.0L511.7 411.2L512.2 412.8L512.1 414.8L513.0 413.9L513.3 412.9L514.5 411.1L514.2 412.9L513.6 414.3L513.5 415.8L512.6 417.5L511.8 419.5L510.9 420.7L510.6 422.6L508.9 423.5L507.6 424.6L506.6 425.4L505.6 426.2L505.1 427.0L504.9 428.4L503.6 428.2L502.7 428.2L501.3 428.9L499.3 428.8L498.3 429.4L496.9 429.7L496.4 430.6L495.3 431.3L494.2 432.1L493.1 432.2L491.5 432.5L490.4 434.2L489.5 435.1L489.8 436.3L489.8 438.2L490.5 440.2L490.6 442.1L491.4 443.7L492.1 444.4L492.8 445.6L494.7 446.5L496.2 447.6L495.6 448.5L495.2 450.1L494.5 451.4L494.3 453.3L493.4 452.7L491.5 452.1L489.5 451.4L488.6 450.6L488.1 449.4L487.5 448.2L487.1 447.2L485.7 445.7L483.7 445.6L481.8 445.7L481.0 446.9L480.4 447.4L480.1 448.6L480.7 450.1L480.6 451.7L479.9 453.3L478.9 454.2L478.0 455.3L478.8 456.0L479.4 457.0L479.6 458.1L480.3 459.5L481.1 461.2L481.8 462.9L482.7 464.0L483.4 465.8L484.2 467.1L484.8 467.7L485.8 468.8L486.6 469.1L485.3 468.4L484.9 467.5L483.6 466.5L482.1 465.7L480.9 465.2L479.9 463.8L478.6 462.8L478.0 462.0L476.5 460.6L476.3 458.9L475.1 457.2L474.9 456.3L474.1 455.1L474.8 453.4L474.4 451.5L474.8 450.3L474.6 449.0L474.1 447.6L473.1 446.2L472.1 445.0L471.3 442.9L471.7 441.8L471.3 439.9L470.4 437.7L469.9 435.9L469.9 434.5L469.4 433.7L467.4 433.0L466.7 431.8L465.5 430.3L464.2 430.8L463.4 431.5L462.1 431.8L460.7 431.3L459.5 432.5L458.0 433.1L457.1 434.2L456.0 435.0L455.0 436.1L455.8 435.7L455.3 436.5L454.8 438.0L454.0 439.3L453.4 440.2L452.9 441.3L451.2 442.2L450.0 443.3L450.4 444.7L450.7 446.2L450.1 447.3L450.0 448.4L449.2 449.4L448.6 450.2L447.6 451.1L447.1 452.9L446.3 454.0L446.3 455.9L445.5 456.7L444.3 457.7L443.3 456.8L442.2 456.2L440.4 455.8L439.2 454.9L438.3 452.6L437.7 451.8L436.5 451.4L436.5 448.7L436.3 447.1L434.8 443.7L434.7 441.4L433.0 440.2L432.3 438.8L432.7 437.5L432.3 435.5L431.8 433.7L431.2 432.8L429.9 431.8L429.6 430.9L428.5 429.7L427.0 428.9L425.8 428.2L424.6 428.0L423.6 428.2L422.1 427.5L421.1 428.1L419.7 428.0L418.4 428.4L417.4 428.0L415.7 427.8L414.4 427.0L413.0 426.2L412.0 424.7L410.7 424.9L409.3 424.3L407.8 424.1L406.9 424.7L405.7 425.0L404.3 424.8L403.2 426.0L402.0 426.4L403.3 427.7L403.5 429.1L404.5 429.2L405.9 430.3L407.4 431.0L408.8 431.4L408.0 432.4L407.4 433.6L406.3 434.5L405.9 435.7L403.3 436.7L401.2 436.3L399.7 436.9L398.8 437.9L397.6 438.0L396.2 439.0L395.2 440.1L394.4 441.4L393.7 442.1L392.5 443.1L390.7 443.9L389.8 444.6L386.9 444.5L385.2 445.6L384.0 446.7L382.8 447.2L381.2 446.1L380.4 444.1L379.3 443.3L378.9 441.4L377.9 440.4L376.3 438.7L375.2 437.6L375.0 436.1L374.7 434.4L373.6 432.0L373.6 430.5L372.7 427.5L370.4 425.4L369.1 423.0L366.5 421.3L367.0 420.2L368.3 418.9L368.7 417.8L368.4 416.5L369.0 414.5L368.4 412.9L368.9 411.6L369.1 410.4L370.1 408.5L370.4 406.9L369.0 406.3L367.5 405.0L366.0 405.0L365.1 405.1L363.5 404.6L361.9 404.4L359.6 405.2L356.6 404.6L355.2 405.8L352.1 405.9L351.4 404.6L350.9 403.3L350.4 402.6L350.7 400.7L350.2 399.8L350.2 398.2L349.9 400.0L349.6 401.1L349.3 402.1L348.7 403.7L348.1 404.6L346.4 405.9L345.3 405.0L344.4 404.8L343.3 403.6L342.7 402.3L342.5 401.1L341.5 400.5L340.6 400.1L339.7 399.0L338.5 398.2L337.5 396.2L336.9 394.5L336.8 393.4L335.3 393.4L333.7 392.3L332.8 391.7L331.0 391.5L330.0 392.2L329.0 393.3L328.3 394.8L328.4 395.9L328.1 397.3L329.0 397.9L329.9 398.8L331.7 399.1L332.9 399.7L334.5 401.2L335.2 402.4L335.8 404.0L337.9 404.5L339.7 405.0L338.7 403.3L338.7 402.1L337.2 401.5L336.0 400.3L335.5 398.2L334.4 396.3L333.2 396.3L332.0 395.9L330.7 394.9L329.1 393.4L327.4 393.2L326.4 392.5L325.3 391.5L323.5 392.3L321.7 392.4L320.4 392.6L318.5 392.7L317.6 393.4L316.5 394.3L314.8 394.7L313.2 395.6L311.2 395.7L309.9 395.4L308.8 396.8L308.1 397.6L307.3 398.7L306.2 399.6L304.1 400.2L303.2 401.3L301.5 402.0L301.0 403.2L299.5 404.2L298.4 405.3L297.4 404.2L296.5 402.9L295.8 402.0L294.9 400.8L293.6 399.2L294.5 397.8L295.0 396.2L295.0 395.2L294.9 393.8L295.1 392.9L295.5 391.5L296.9 390.5L298.0 390.5L299.1 389.2L300.1 388.7L301.3 388.6L302.4 386.8L303.1 384.5L303.5 382.9L302.5 380.3L302.7 377.7L301.5 375.4L302.0 371.7L300.3 368.5L300.3 366.9L300.4 366.0L301.1 364.5L302.3 363.6L302.9 361.6L304.5 361.3L306.3 360.6L307.8 360.2L308.9 360.3L310.6 359.9L311.7 361.2L312.7 362.1L314.0 363.3L315.4 364.3L315.6 365.3L316.8 366.4L318.3 366.8L319.2 367.7L320.0 368.5L319.8 366.5L320.2 365.1L320.7 363.9L321.9 363.0L322.6 361.6L321.9 360.4L321.6 359.6L321.3 358.4L320.8 357.4L319.2 356.4L317.3 355.7L316.5 354.6ZM388.7 290.3L387.8 291.0L386.8 291.7L386.1 292.9L385.3 293.9L383.5 294.8L382.3 295.6L381.3 296.4L380.4 297.7L379.7 298.1L379.3 299.8L378.8 301.4L378.0 302.5L377.2 303.4L375.9 304.4L375.2 306.0L374.9 309.0L375.0 311.4L375.0 313.5L375.8 314.7L376.5 316.0L377.3 316.9L379.0 317.6L380.1 318.7L381.1 317.8L382.6 316.8L383.6 315.2L382.9 313.9L382.8 312.9L381.6 312.0L380.7 311.2L380.6 309.6L380.1 308.4L380.0 306.7L380.0 305.8L380.6 304.4L381.2 303.4L381.9 301.7L383.0 300.0L383.6 298.9L384.8 297.3L385.6 296.4L386.8 296.2L387.6 295.2L387.9 293.6L389.0 292.9L389.6 292.1ZM354.4 276.6L355.9 276.6L357.8 275.8L358.5 274.8L359.8 273.8L361.5 273.0L362.3 272.0L363.8 270.6L365.7 270.0L367.5 269.0L369.1 268.7L371.0 268.0L372.2 268.5L374.1 268.9L374.2 270.0L374.7 271.3L374.4 272.5L375.0 274.3L374.1 275.8L372.9 276.5L371.3 277.2L369.8 278.4L367.9 279.1L366.4 279.7L365.3 279.8L363.8 279.2L362.2 278.8L360.1 279.2L358.3 279.8L357.0 280.0L355.3 278.6ZM404.2 262.9L405.1 262.2L406.9 261.9L408.5 261.2L410.3 262.5L411.9 262.9L412.7 263.8L414.0 265.1L414.6 266.3L415.3 266.9L416.7 267.4L417.9 268.9L417.5 269.7L416.4 270.7L415.3 272.3L414.4 272.3L413.1 272.1L411.3 271.4L410.0 269.9L408.5 268.9L407.8 267.9L407.3 266.4L406.8 265.1L405.8 264.3L405.1 263.8ZM420.5 268.0L422.0 268.3L423.1 269.2L424.0 269.4L425.1 270.9L426.5 271.5L425.5 272.6L424.7 274.2L424.1 274.7L423.0 275.8L421.7 274.7L421.0 273.2L420.8 271.6L421.3 269.9ZM470.0 270.6L471.3 269.8L472.7 269.3L474.0 268.3L475.1 268.1L476.9 267.2L478.2 266.8L479.5 266.9L480.5 266.8L481.9 266.7L483.8 267.2L482.9 268.7L481.8 270.3L481.0 272.0L481.2 273.2L479.2 273.7L478.4 274.4L477.2 274.6L476.3 274.3L474.9 273.8L473.5 274.0L472.8 273.3L471.4 272.4L470.6 271.4ZM530.1 358.2L531.4 357.7L532.3 357.9L533.6 357.3L534.9 359.0L535.1 360.6L535.6 361.5L536.4 362.8L536.6 365.2L536.1 366.7L536.5 367.8L536.7 369.0L537.7 370.0L538.7 371.9L537.2 372.8L536.1 372.7L535.7 370.8L534.8 369.8L533.8 367.9L532.7 367.4L531.8 366.7L531.9 365.6L531.2 364.3L531.6 362.4L531.5 360.6L530.7 359.6ZM537.0 377.0L538.4 376.5L539.2 376.6L541.0 376.2L542.1 376.2L543.0 377.4L544.7 378.8L544.0 379.7L543.6 381.0L542.1 382.2L541.3 383.0L540.1 382.5L539.0 382.0L537.9 382.2L537.7 380.2L537.0 379.0ZM537.9 383.9L539.5 385.2L540.4 386.1L541.3 387.3L541.4 389.2L541.9 390.2L542.8 391.2L542.1 392.3L542.0 394.1L542.1 395.9L540.5 397.0L539.3 397.3L538.4 398.3L537.5 399.0L537.4 400.3L537.1 401.5L536.1 402.8L534.2 403.0L533.0 402.5L531.0 403.2L529.9 402.8L528.9 402.7L527.6 402.8L526.0 402.0L524.6 401.1L523.2 400.5L522.1 400.6L520.8 401.0L519.0 401.1L518.0 400.4L517.6 399.1L517.1 397.3L517.3 395.9L517.9 394.6L518.7 393.9L520.5 393.1L522.4 392.5L523.9 392.5L524.8 392.6L526.7 392.6L527.8 392.2L529.5 391.6L530.1 390.5L531.0 389.9L532.3 389.0L533.7 388.1L534.8 387.1L535.3 385.6L536.5 384.4ZM295.9 358.5L297.4 357.4L298.1 356.7L299.5 356.4L301.1 355.0L301.5 356.0L302.2 357.0L303.7 358.2L304.5 360.2L303.9 361.4L303.6 363.2L303.2 364.5L302.6 365.2L302.4 366.8L301.9 368.5L302.8 370.5L303.5 372.2L303.4 373.4L303.8 374.8L304.7 375.9L306.2 377.3L304.8 377.8L303.8 379.0L303.4 379.6L302.3 381.5L301.1 382.5L299.4 381.4L297.9 381.3L295.9 380.8L296.5 379.3L297.6 378.9L298.4 378.1L299.4 377.0L299.6 375.6L299.4 373.9L298.9 372.9L298.3 371.9L296.8 370.7L296.2 369.2L295.9 367.0L295.4 365.0L296.0 363.0L295.7 361.4L296.1 359.7ZM292.5 367.0L293.9 366.4L295.9 366.2L295.8 368.4L296.7 370.1L296.3 371.6L295.9 372.9L295.9 373.9L293.9 374.6L292.5 375.6L292.5 374.1L292.5 373.2L293.4 371.9L292.4 370.2L292.6 368.3ZM501.0 512.8L502.6 511.9L503.2 510.5L503.9 509.8L505.1 509.3L505.7 508.3L506.8 507.1L507.3 506.4L508.5 505.6L509.9 505.1L511.7 504.4L513.6 503.9L515.0 504.0L516.4 503.2L517.3 502.2L518.5 501.7L519.5 501.1L521.1 501.0L522.1 499.9L523.4 498.9L523.6 497.8L524.0 496.5L526.0 495.8L526.8 494.3L528.2 493.6L529.2 493.3L530.5 492.7L531.7 491.7L532.7 492.4L533.6 493.4L534.6 494.6L536.4 494.9L537.6 494.4L538.7 494.0L540.4 493.6L540.5 494.8L541.4 495.9L542.7 497.6L544.0 498.4L545.2 499.4L547.3 499.6L548.8 500.9L550.0 501.3L550.0 499.6L550.1 497.8L550.9 496.6L551.7 495.2L552.0 493.0L551.9 491.7L553.5 493.0L554.8 494.6L555.3 495.9L555.7 497.5L555.7 499.6L556.0 501.0L555.9 502.4L556.4 503.8L557.6 505.2L558.8 506.2L558.9 507.2L559.8 508.6L560.7 508.9L562.0 509.9L563.1 511.7L564.4 512.8L563.7 514.1L564.0 516.3L565.0 517.7L565.4 519.4L566.2 520.2L566.6 521.5L568.2 522.4L567.6 524.2L565.2 526.1L565.7 527.8L564.8 530.3L564.9 531.6L564.3 533.4L564.2 534.4L564.4 535.9L563.1 536.6L561.6 537.2L561.1 538.7L559.7 540.3L559.2 542.2L558.2 543.4L558.6 545.5L557.2 546.5L556.0 548.3L554.1 549.0L552.5 550.2L550.9 550.3L549.5 549.8L548.2 549.3L546.3 549.2L545.2 549.3L544.5 547.8L544.0 546.9L542.7 546.0L541.4 544.5L541.1 543.1L540.4 541.6L539.6 540.6L539.0 539.8L538.0 538.8L536.9 538.2L535.6 537.8L534.9 535.8L533.9 534.6L533.0 534.4L531.2 533.3L529.8 532.0L527.8 532.0L526.4 532.6L524.6 533.8L522.8 533.3L520.5 533.5L519.5 533.6L518.3 534.0L516.2 534.5L514.0 534.4L512.0 535.9L511.1 537.2L510.1 537.2L508.7 537.8L506.9 536.9L505.4 535.9L504.2 536.4L503.3 536.3L502.0 535.9L501.2 534.2L501.0 532.9L500.6 530.9L501.0 529.5L501.7 527.2L501.6 525.6L502.0 524.4L502.6 522.5L502.2 521.3L501.5 519.8L500.6 518.1L501.3 516.7L501.3 515.0L501.5 514.0ZM546.1 554.1L547.7 553.4L549.0 553.4L550.7 553.4L551.9 554.1L551.8 555.5L551.6 556.7L550.6 558.4L550.1 559.4L550.0 560.8L548.6 560.9L547.7 560.6L546.1 560.8L545.6 558.8L545.1 556.7L545.9 555.3ZM597.0 542.6L597.5 543.9L597.4 546.0L598.1 546.7L599.2 547.7L599.9 549.3L601.2 550.1L602.0 550.6L603.2 552.0L603.7 553.1L602.4 554.5L602.0 555.6L601.2 557.2L600.0 558.1L598.9 558.9L597.1 557.8L596.0 557.0L597.0 555.9L597.5 555.1L597.7 554.0L597.4 552.8L597.9 551.2L598.2 550.1L598.5 549.0L598.1 547.6L598.5 545.6L597.8 544.1ZM593.1 559.9L592.2 561.3L591.8 562.9L591.3 564.3L590.9 565.1L589.3 566.6L587.8 567.4L586.9 567.6L585.2 568.9L583.4 569.7L583.1 571.1L582.7 572.1L581.6 573.3L580.2 574.1L579.5 574.8L578.5 575.2L577.8 576.2L578.3 574.6L578.4 573.6L578.6 572.6L578.8 571.4L579.5 570.9L581.0 571.1L582.0 569.9L583.3 569.2L584.0 567.3L584.2 566.0L585.8 565.0L586.4 563.7L587.2 563.0L588.7 561.8L590.2 561.5L591.0 561.6L591.8 560.4ZM542.3 477.3L544.2 477.4L545.8 476.8L546.7 475.7L547.8 475.4L549.0 474.5L550.4 476.1L551.8 476.5L553.0 477.1L555.7 476.4L557.8 477.0L559.4 477.6L560.5 477.3L561.9 478.4L562.3 479.4L562.9 480.5L564.6 482.6L565.7 483.6L567.1 483.6L568.2 484.0L566.9 484.7L566.0 486.2L565.5 487.1L564.4 487.9L562.6 487.2L560.9 487.2L559.2 486.0L557.9 484.9L556.7 484.0L555.6 484.6L553.5 484.4L551.9 485.0L550.0 485.0L549.1 484.7L547.6 484.3L546.3 483.3L545.2 482.4L544.2 481.2L543.6 479.9L542.8 479.1ZM497.2 466.8L498.0 465.6L499.9 464.9L501.4 463.5L502.9 462.0L504.1 461.4L505.8 460.1L507.5 460.5L509.1 460.1L510.6 460.1L512.5 461.0L512.6 462.4L512.1 463.7L512.2 465.4L512.3 467.5L511.1 469.3L510.6 470.6L509.7 471.4L508.1 472.7L507.4 473.8L507.1 474.8L506.1 475.8L504.9 476.4L503.4 476.5L502.6 476.1L501.1 474.9L499.8 474.4L498.1 473.5L497.8 471.8L496.9 470.9L496.7 469.0L496.8 467.7ZM473.2 462.0L474.8 462.5L476.2 463.7L477.5 464.2L479.0 464.9L479.9 464.9L480.9 465.6L481.7 466.2L482.5 467.3L482.8 468.1L484.5 469.8L485.3 472.0L486.6 472.5L487.6 473.5L487.7 474.5L488.4 476.1L489.7 476.7L490.4 477.6L492.1 478.3L492.6 479.4L493.3 480.2L491.6 480.0L489.5 480.2L488.8 479.3L488.8 478.0L488.1 477.1L486.5 476.2L485.7 474.9L483.8 473.7L482.5 473.3L481.8 472.5L480.3 471.7L480.1 470.3L479.1 469.0L477.5 467.6L476.3 467.2L475.1 465.8L474.5 464.2L474.0 463.4ZM496.2 485.0L497.7 485.0L499.2 485.4L501.2 485.6L503.5 485.9L504.5 485.7L505.7 485.5L507.7 486.0L509.5 485.4L511.2 485.4L512.8 486.0L514.0 486.1L515.5 486.8L517.6 486.6L518.9 486.7L520.2 486.9L520.2 488.3L518.7 487.8L517.1 487.8L516.1 488.1L514.7 488.5L513.2 488.3L511.5 488.7L509.3 488.6L507.7 487.9L506.5 487.1L505.2 486.7L504.2 486.9L503.0 486.3L501.0 487.0L499.9 487.4L498.0 486.4L496.2 486.5ZM514.5 470.6L515.7 469.5L517.7 469.0L519.2 469.0L520.2 468.7L519.9 470.0L519.5 471.6L518.5 473.1L518.3 474.5L518.7 475.9L518.9 477.6L520.2 479.3L518.4 479.1L517.7 479.8L516.4 480.2L516.4 478.9L516.6 478.0L516.2 476.3L515.4 475.4L514.8 474.2L514.5 473.2L514.8 472.2ZM514.5 438.0L516.4 438.8L517.5 439.2L518.3 439.9L519.2 441.0L519.2 442.6L519.1 443.6L519.3 445.0L520.0 446.3L520.2 447.6L521.1 449.1L521.5 450.6L522.3 451.9L522.4 452.9L523.7 454.2L525.0 455.3L525.2 457.1L524.6 458.0L524.0 459.1L522.9 458.5L521.5 457.0L520.5 456.3L519.3 455.3L519.8 453.3L519.7 451.9L518.7 450.4L517.8 449.6L517.5 448.3L516.5 446.5L515.4 445.7L516.1 444.0L515.7 442.3L515.1 440.7L514.9 439.6ZM513.5 424.5L514.4 426.5L515.6 427.4L514.9 429.2L514.1 430.7L512.8 429.1L512.5 427.6L513.2 426.4ZM495.3 434.1L496.4 435.6L498.3 436.1L497.2 437.0L496.6 437.9L495.3 438.4L494.2 437.7L493.3 436.1L494.2 435.1ZM446.2 457.7L447.4 458.3L448.5 459.1L448.0 460.8L447.7 462.1L446.3 461.4L445.8 460.6L446.0 459.2ZM523.1 480.2L524.4 480.6L526.4 480.3L527.9 479.4L529.8 478.7L531.0 478.7L532.3 479.6L533.8 479.9L534.6 480.2L532.7 480.7L531.3 481.6L529.8 482.1L528.5 481.5L527.0 480.5L525.8 480.8L524.5 480.5ZM521.2 486.9L522.1 487.2L523.5 487.2L524.6 487.7L525.9 487.7L527.7 487.9L529.8 487.5L531.6 487.0L532.5 486.5L533.8 486.2L535.2 486.5L536.1 486.6L537.5 486.5L537.5 487.9L536.3 488.8L535.0 489.1L533.9 489.2L532.7 489.1L530.7 489.4L528.8 488.8L527.3 488.9L526.1 488.5L525.1 488.3L523.0 487.9L521.2 488.3ZM526.0 470.6L527.9 469.8L529.8 469.7L530.0 471.1L530.8 472.5L528.7 472.7L526.9 473.5L526.4 472.2ZM533.6 471.6L535.0 471.3L536.1 471.8L537.9 472.9L539.5 473.0L540.4 472.5L539.4 474.5L537.4 474.9L536.1 474.6L534.6 474.1L533.6 473.9L533.9 473.1ZM517.3 447.6L519.0 448.9L520.2 449.3L521.2 449.5L520.9 451.3L520.2 452.4L518.4 451.7L517.3 451.0L517.2 449.8L516.9 449.0ZM522.1 457.2L524.3 457.2L526.0 458.1L525.8 459.5L525.0 461.4L523.7 460.5L521.7 460.2L522.3 458.4ZM569.2 478.3L570.7 478.7L571.7 479.2L573.0 479.8L572.0 480.9L571.7 481.7L569.8 481.1L568.6 480.2ZM575.9 482.1L576.8 483.0L577.7 483.8L579.1 483.7L580.2 483.7L581.6 484.4L582.5 485.7L584.5 486.4L585.2 487.2L586.4 487.9L585.1 489.0L583.2 488.3L581.8 487.6L581.0 487.1L580.1 486.0L578.6 485.3L577.1 484.7L575.5 483.7ZM589.3 509.4L590.7 510.3L592.2 511.0L593.5 510.9L594.3 512.5L592.2 512.1L591.3 511.4L590.1 510.9ZM594.3 499.0L596.2 499.8L596.1 501.1L595.8 502.1L594.3 501.3L594.0 500.2ZM611.4 503.6L612.9 503.1L614.1 502.1L615.8 501.3L616.6 502.5L614.7 503.1L613.4 503.6L612.3 504.8ZM556.7 440.9L558.2 441.4L557.8 443.0L556.7 442.2ZM199.8 441.3L201.7 441.1L203.3 441.5L204.6 441.8L204.2 443.4L202.2 443.1L201.2 443.1L199.8 443.0ZM175.8 437.4L177.4 438.2L178.8 438.6L180.6 438.4L180.2 439.9L179.0 439.9L178.0 439.4L175.8 439.2ZM178.7 423.0L180.5 424.0L181.6 425.0L182.1 426.5L183.0 427.6L184.5 428.8L182.9 429.2L181.8 427.5L180.7 426.6L180.2 425.9L179.6 424.9ZM215.2 568.5L216.2 568.8L217.7 568.4L218.8 568.5L220.0 569.3L219.7 570.3L219.4 571.8L217.7 571.4L216.4 571.2L215.2 570.8L215.4 569.7ZM61.5 305.8L62.1 306.8L64.0 307.5L64.0 308.6L63.2 309.7L61.9 308.9L60.9 308.4L61.0 307.0ZM73.5 334.1L74.6 333.5L75.5 332.7L77.3 332.2L78.7 331.9L80.3 331.5L81.2 332.7L79.8 333.5L78.5 333.6L77.5 333.6L76.2 334.4L75.3 335.6L74.3 335.8ZM485.5 267.2L486.4 266.7L487.8 266.8L489.3 267.1L490.6 267.9L490.1 269.6L488.1 269.3L486.9 268.9L485.5 268.9ZM564.5 338.4L565.8 338.1L567.6 338.7L568.7 339.1L569.6 340.1L569.1 341.7L567.3 341.0L566.6 340.3L565.8 340.0L564.3 340.0ZM390.4 266.3L391.5 267.1L393.0 267.2L392.7 269.2L391.6 269.0L390.4 268.5L390.7 267.7ZM342.3 280.3L344.0 281.2L343.3 282.9L341.9 282.1ZM438.6 428.4L440.0 429.2L439.6 431.3L438.4 430.3ZM544.7 377.9L545.6 376.9L546.2 376.2L546.5 375.2L547.2 373.9L548.1 372.6L548.7 371.5L549.9 370.2L550.7 368.8L551.7 366.9L552.2 365.9L552.2 364.5L553.3 363.3L553.8 361.9L554.2 361.0L554.6 358.9L555.3 358.1L556.7 357.3L557.4 358.2L556.3 359.5L555.5 360.6L555.0 361.6L554.7 362.7L554.0 364.7L553.6 366.2L552.3 367.6L552.1 369.0L551.7 369.9L550.7 371.5L549.2 372.5L548.3 373.1L547.5 374.8L546.6 376.1L546.5 377.4L545.8 378.8Z"/></g><g fill="#fff" stroke="#2d5fb0" stroke-width="0.8" stroke-linejoin="round"><path d="M194.5 330.7L193.8 331.6L192.9 332.3L191.4 332.9L190.5 333.1L189.3 334.3L188.5 334.8L187.0 335.1L185.9 335.8L185.2 336.1L183.8 336.5L182.0 336.4L180.9 336.0L179.8 336.5L178.2 336.4L176.9 337.2L175.6 337.9L174.6 339.1L172.9 339.6L170.8 340.4L169.3 342.3L168.4 344.1L168.1 345.6L167.4 346.5L168.4 348.4L169.2 349.0L170.4 350.4L170.6 351.5L170.8 353.3L172.1 353.2L173.6 353.8L175.5 354.5L176.8 355.4L177.7 356.8L178.9 357.4L179.4 358.2L180.6 359.5L180.9 360.7L181.4 361.8L182.2 362.5L182.8 363.6L183.6 364.8L184.3 365.7L184.8 366.8L184.7 367.9L184.5 369.7L185.1 368.4L185.9 367.4L186.9 366.6L188.0 365.4L188.5 363.7L189.5 362.3L189.6 360.2L189.9 358.5L189.7 356.8L190.4 355.5L190.3 354.7L191.1 353.5L192.1 352.8L192.9 351.5L193.1 349.9L193.4 348.5L193.5 347.4L193.4 346.1L194.3 345.1L194.8 343.0L195.5 341.9L196.5 341.2L198.2 340.5L199.7 339.3L199.6 337.3L199.3 336.1L198.8 334.1L197.8 333.6L196.7 332.0L195.2 331.2ZM338.9 335.8L340.1 336.4L341.0 336.5L342.3 337.0L343.2 337.6L341.8 339.1L341.3 340.9L341.4 342.0L341.0 343.7L340.4 344.7L339.8 346.1L338.9 347.6L338.2 348.3L337.8 349.9L337.5 351.7L337.2 353.0L339.2 353.6L340.4 354.5L341.5 354.7L342.4 353.9L343.5 353.5L345.0 352.9L346.9 353.1L348.3 352.6L349.2 352.3L350.1 351.3L350.9 353.0L349.3 353.8L348.3 354.3L347.0 354.1L346.2 354.5L345.3 355.8L344.6 356.8L343.2 357.3L343.1 359.3L342.4 360.0L341.6 361.4L340.6 362.4L339.8 363.3L338.2 364.0L337.7 364.8L336.4 365.3L334.2 365.3L333.0 365.6L331.2 366.7L329.8 366.9L328.5 367.5L326.9 368.5L325.9 368.1L324.3 367.6L325.3 366.0L326.1 365.4L326.9 364.2L328.0 363.1L328.4 362.2L329.4 360.4L329.7 358.3L330.3 356.4L330.5 354.3L331.6 352.5L331.6 350.9L332.5 349.3L332.9 347.9L333.6 346.3L334.3 345.3L335.0 344.4L335.8 342.7L335.9 340.6L336.4 339.3L336.9 338.4L338.2 337.7ZM353.5 387.3L354.8 387.0L355.9 386.3L356.7 384.8L357.7 383.8L358.5 383.5L360.4 383.0L361.3 382.9L362.9 382.6L365.0 383.0L366.2 382.9L367.3 382.2L367.0 383.5L366.1 385.1L365.9 386.3L365.5 387.3L367.2 388.1L368.6 388.3L369.3 388.8L370.9 388.8L372.4 389.9L373.2 390.7L374.3 391.0L374.7 393.0L375.8 394.2L374.7 395.0L373.2 395.4L371.8 395.6L370.6 395.0L368.9 395.6L367.3 395.9L365.7 395.2L364.0 394.9L362.9 394.9L361.3 394.2L359.8 393.3L358.7 393.3L357.0 393.0L355.9 393.0L354.4 391.6L354.6 389.7L354.2 388.1ZM383.6 385.6L384.7 384.7L386.2 383.9L387.2 383.4L388.3 382.6L389.6 381.3L391.2 382.5L392.2 383.0L393.9 383.9L393.4 386.0L392.9 387.2L393.1 388.2L392.1 389.1L391.3 389.9L391.6 391.9L392.6 393.2L393.2 394.1L393.9 395.9L395.6 397.2L396.2 398.7L396.1 400.0L396.4 401.1L395.1 402.3L394.1 402.7L393.0 403.6L392.2 402.5L391.0 401.3L389.7 399.9L388.7 399.4L388.3 398.3L387.5 397.3L387.1 396.5L386.5 395.2L386.7 393.6L386.1 392.5L385.7 391.2L384.7 390.2L384.8 388.3L384.2 387.0ZM363.6 466.8L364.9 466.5L366.5 466.9L367.9 467.9L367.8 469.6L367.9 471.0L367.0 472.6L367.2 474.2L366.7 475.6L365.0 474.6L363.6 474.4L364.0 472.5L364.7 471.2L364.9 469.5L363.8 468.0ZM357.5 476.9L358.9 476.6L359.8 476.0L359.6 477.9L360.2 479.1L359.9 480.8L360.5 482.6L361.0 483.9L361.7 484.6L359.8 485.6L359.1 483.7L358.9 482.6L358.0 481.2L357.8 479.7L357.3 478.6ZM366.1 487.5L367.1 487.5L368.4 487.1L369.0 488.8L369.1 490.5L369.1 491.8L369.2 493.8L368.6 495.2L366.5 495.2L365.9 493.4L366.0 492.2L366.4 490.5L366.5 489.3Z"/></g></svg>
<svg style="left:0;top:0" width="1920" height="990"><path d="M115.0 386.0C116.0 383.4 117.2 375.7 120.7 370.2C124.2 364.7 129.5 358.1 136.1 353.0C142.7 347.9 151.9 342.4 160.2 339.3C168.5 336.2 178.8 335.1 185.9 334.1C193.0 333.1 197.2 333.5 202.7 333.2C208.2 332.9 212.6 332.5 218.7 332.4C224.8 332.3 232.4 332.1 239.3 332.7C246.2 333.3 253.0 334.1 259.9 336.1C266.8 338.1 274.1 340.9 280.5 344.7C286.9 348.5 295.1 356.6 298.0 359.0" fill="none" stroke="#f0464f" stroke-width="1.5"/><path d="M203.0 333.3L195.8 337.7L195.6 329.3Z" fill="#f0464f"/><path d="M202.4 333.3L209.6 328.9L209.8 337.3Z" fill="#f0464f"/><path d="M297.0 375.0C294.8 376.2 288.4 380.1 283.9 382.5C279.4 384.9 274.8 387.4 270.2 389.4C265.6 391.4 260.1 393.5 256.4 394.5C252.7 395.5 249.6 395.4 248.2 395.6" fill="none" stroke="#f0464f" stroke-width="1.5"/><path d="M192.0 395.0C194.2 395.3 200.3 396.2 205.0 396.6C209.7 397.0 215.0 397.2 220.0 397.2C225.0 397.2 230.3 397.1 235.0 396.8C239.7 396.5 245.8 395.8 248.0 395.6" fill="none" stroke="#47b97d" stroke-width="1.5"/><path d="M248.6 395.7L241.7 400.5L241.0 392.1Z" fill="#47b97d"/><path d="M247.8 395.7L254.5 390.7L255.6 399.0Z" fill="#f0464f"/><path d="M230.5 488.0C231.5 486.8 230.4 490.2 236.3 480.6C242.2 471.0 258.9 442.3 266.0 430.5C273.1 418.7 273.8 418.2 278.8 410.0C283.8 401.8 293.1 386.2 296.0 381.5" fill="none" stroke="#111" stroke-width="1.4"/><path d="M266.2 430.2L265.5 439.2L258.6 435.0Z" fill="#111"/><path d="M265.8 430.8L266.5 421.8L273.4 426.0Z" fill="#111"/><path d="M306.0 383.0C306.0 385.7 305.5 393.3 305.8 399.2C306.1 405.1 306.8 412.0 308.0 418.4C309.2 424.8 310.8 431.3 312.8 437.6C314.8 443.9 317.0 449.6 320.0 456.0C323.0 462.4 327.2 469.8 331.0 476.0C334.8 482.2 338.2 487.2 342.5 493.2C346.8 499.2 354.6 508.9 357.0 512.0" fill="none" stroke="#111" stroke-width="1.4"/><path d="M320.4 456.9L313.6 451.1L320.9 447.9Z" fill="#111"/><path d="M320.2 456.3L327.0 462.1L319.7 465.3Z" fill="#111"/><path d="M316.6 374.3L373 406.6" fill="none" stroke="#111" stroke-width="2.5" stroke-dasharray="2.4 3.5"/><path d="M463.0 315.5C459.9 316.9 450.4 320.7 444.5 323.8C438.6 326.9 433.0 330.1 427.3 334.1C421.6 338.1 414.3 344.2 410.2 347.9C406.1 351.5 404.9 352.6 402.6 356.0C400.3 359.4 398.3 364.1 396.4 368.5C394.5 372.9 392.7 377.6 391.3 382.2C389.9 386.8 388.8 391.9 387.9 395.9C387.0 399.9 386.1 404.3 385.8 406.0" fill="none" stroke="#47b97d" stroke-width="1.5"/><path d="M404.0 353.0L402.0 361.2L395.9 355.3Z" fill="#47b97d"/><path d="M403.6 353.4L405.6 345.2L411.7 351.1Z" fill="#47b97d"/><path d="M531.0 390.2C527.3 389.3 515.5 386.1 508.7 384.8C501.9 383.5 497.4 382.6 490.0 382.2C482.6 381.8 471.6 381.7 464.0 382.3C456.4 382.9 450.6 384.3 444.5 385.6C438.4 386.9 433.0 388.2 427.3 389.9C421.6 391.6 415.9 393.5 410.2 395.9C404.5 398.3 395.9 403.1 393.0 404.5" fill="none" stroke="#47b97d" stroke-width="1.5"/><path d="M463.9 382.6L456.6 386.8L456.6 378.4Z" fill="#47b97d"/><path d="M463.3 382.6L470.6 378.4L470.6 386.8Z" fill="#47b97d"/><path d="M392.4 412.6C394.6 412.8 401.1 412.5 405.9 413.8C410.7 415.1 416.7 417.6 421.2 420.3C425.7 423.0 429.5 426.7 432.7 429.9C435.9 433.1 438.5 436.8 440.4 439.5C442.3 442.2 443.6 444.9 444.3 446.0" fill="none" stroke="#47b97d" stroke-width="1.5"/><path d="M425.0 423.0L416.5 422.8L420.9 415.6Z" fill="#47b97d"/><path d="M424.4 422.6L432.9 422.8L428.5 430.0Z" fill="#47b97d"/><path d="M392.4 424.1C393.7 425.4 396.9 428.6 400.1 431.8C403.3 435.0 407.4 439.8 411.6 443.3C415.8 446.8 420.0 450.1 425.1 452.9C430.2 455.7 436.5 458.0 442.3 459.9C448.1 461.8 453.9 463.2 460.0 464.5C466.1 465.8 475.8 467.0 479.0 467.5" fill="none" stroke="#47b97d" stroke-width="1.5"/><path d="M429.0 454.6L420.6 455.5L424.0 447.8Z" fill="#47b97d"/><path d="M428.4 454.4L436.8 453.5L433.4 461.2Z" fill="#47b97d"/><circle cx="112.9" cy="393.2" r="8.2" fill="#fff" stroke="#dfe3ea" stroke-width=".6"/><circle cx="112.9" cy="393.2" r="6.6" fill="#f0464f"/><circle cx="186.4" cy="395.4" r="8.2" fill="#fff" stroke="#dfe3ea" stroke-width=".6"/><circle cx="186.4" cy="395.4" r="6.6" fill="#47b97d"/><circle cx="230.8" cy="488" r="8.2" fill="#fff" stroke="#dfe3ea" stroke-width=".6"/><circle cx="230.8" cy="488" r="6.6" fill="#c84dc0"/><circle cx="357.4" cy="512.5" r="8.2" fill="#fff" stroke="#dfe3ea" stroke-width=".6"/><circle cx="357.4" cy="512.5" r="6.6" fill="#fba038"/><circle cx="469.4" cy="312" r="8.2" fill="#fff" stroke="#dfe3ea" stroke-width=".6"/><circle cx="469.4" cy="312" r="6.6" fill="#47b97d"/><circle cx="537" cy="392.7" r="8.2" fill="#fff" stroke="#dfe3ea" stroke-width=".6"/><circle cx="537" cy="392.7" r="6.6" fill="#47b97d"/><circle cx="442.6" cy="450.8" r="8.2" fill="#fff" stroke="#dfe3ea" stroke-width=".6"/><circle cx="442.6" cy="450.8" r="6.6" fill="#47b97d"/><circle cx="485.3" cy="467.8" r="8.2" fill="#fff" stroke="#dfe3ea" stroke-width=".6"/><circle cx="485.3" cy="467.8" r="6.6" fill="#47b97d"/><rect x="295.6" y="362.3" width="21.4" height="21.4" fill="#fff" opacity=".9"/><rect x="296.6" y="363.3" width="19.4" height="19.4" fill="#f0464f"/><rect x="301.7" y="366.4" width="9.2" height="3.6" rx="1.2" fill="none" stroke="#fff" stroke-width=".9" opacity=".85"/><rect x="301.7" y="370.8" width="9.2" height="3.6" rx="1.2" fill="none" stroke="#fff" stroke-width=".9" opacity=".85"/><rect x="301.7" y="375.2" width="9.2" height="3.6" rx="1.2" fill="none" stroke="#fff" stroke-width=".9" opacity=".85"/><rect x="372.4" y="404.9" width="21.4" height="21.4" fill="#fff" opacity=".9"/><rect x="373.4" y="405.9" width="19.4" height="19.4" fill="#47b97d"/><rect x="378.5" y="409.0" width="9.2" height="3.6" rx="1.2" fill="none" stroke="#fff" stroke-width=".9" opacity=".85"/><rect x="378.5" y="413.4" width="9.2" height="3.6" rx="1.2" fill="none" stroke="#fff" stroke-width=".9" opacity=".85"/><rect x="378.5" y="417.8" width="9.2" height="3.6" rx="1.2" fill="none" stroke="#fff" stroke-width=".9" opacity=".85"/></svg>
<div class="a" style="left:82.9px;top:404.0px;width:60.1px;height:11.2px;background:#3e4b59;border-radius:1px;box-shadow:0 0 0 .6px rgba(255,255,255,.7)"></div>
<span class="t" style="left:85.80px;top:404.89px;font-size:9.4px;line-height:9.4px;color:#fff;letter-spacing:-0.468px;">San Francisco</span>
<div class="a" style="left:164.8px;top:405.9px;width:42.9px;height:11.1px;background:#3e4b59;border-radius:1px;box-shadow:0 0 0 .6px rgba(255,255,255,.7)"></div>
<span class="t" style="left:167.70px;top:406.69px;font-size:9.4px;line-height:9.4px;color:#fff;letter-spacing:-0.358px;">New York</span>
<div class="a" style="left:288.6px;top:386.1px;width:35.5px;height:11.6px;background:#3e4b59;border-radius:1px;box-shadow:0 0 0 .6px rgba(255,255,255,.7)"></div>
<span class="t" style="left:291.50px;top:387.39px;font-size:9.4px;line-height:9.4px;color:#fff;letter-spacing:-0.319px;">London</span>
<div class="a" style="left:368.9px;top:429.0px;width:28.8px;height:10.8px;background:#3e4b59;border-radius:1px;box-shadow:0 0 0 .6px rgba(255,255,255,.7)"></div>
<span class="t" style="left:371.80px;top:429.49px;font-size:9.4px;line-height:9.4px;color:#fff;letter-spacing:-0.375px;">Dubai</span>
<div class="a" style="left:451.4px;top:323.3px;width:36.4px;height:11.2px;background:#3e4b59;border-radius:1px;box-shadow:0 0 0 .6px rgba(255,255,255,.7)"></div>
<span class="t" style="left:454.30px;top:324.19px;font-size:9.4px;line-height:9.4px;color:#fff;letter-spacing:-0.343px;">Yakutsk</span>
<div class="a" style="left:522.4px;top:404.0px;width:29.5px;height:11.2px;background:#3e4b59;border-radius:1px;box-shadow:0 0 0 .6px rgba(255,255,255,.7)"></div>
<span class="t" style="left:525.30px;top:404.89px;font-size:9.4px;line-height:9.4px;color:#fff;letter-spacing:-0.200px;">Tokyo</span>
<div class="a" style="left:453.4px;top:445.7px;width:38.4px;height:11.1px;background:#3e4b59;border-radius:1px;box-shadow:0 0 0 .6px rgba(255,255,255,.7)"></div>
<span class="t" style="left:456.30px;top:446.49px;font-size:9.4px;line-height:9.4px;color:#fff;letter-spacing:-0.390px;">Chennai</span>
<div class="a" style="left:463.0px;top:479.0px;width:44.7px;height:11.2px;background:#3e4b59;border-radius:1px;box-shadow:0 0 0 .6px rgba(255,255,255,.7)"></div>
<span class="t" style="left:465.90px;top:479.89px;font-size:9.4px;line-height:9.4px;color:#fff;letter-spacing:-0.481px;">Singapore</span>
<div class="a" style="left:327.2px;top:523.0px;width:60.4px;height:11.5px;background:#3e4b59;border-radius:1px;box-shadow:0 0 0 .6px rgba(255,255,255,.7)"></div>
<span class="t" style="left:330.10px;top:524.19px;font-size:9.4px;line-height:9.4px;color:#fff;letter-spacing:-0.440px;">Johannesburg</span>
<div class="a" style="left:214.2px;top:499.2px;width:33.6px;height:11.4px;background:#3e4b59;border-radius:1px;box-shadow:0 0 0 .6px rgba(255,255,255,.7)"></div>
<span class="t" style="left:217.10px;top:500.29px;font-size:9.4px;line-height:9.4px;color:#fff;letter-spacing:-0.421px;">Brasilia</span>
<div class="a" style="left:38.0px;top:596.3px;width:58.1px;height:16.6px;border:.7px solid #e4e4e4"></div>
<div class="a" style="left:95.5px;top:596.3px;width:57.6px;height:16.6px;border:.7px solid #e4e4e4"></div>
<div class="a" style="left:152.5px;top:596.3px;width:41.3px;height:16.6px;border:.7px solid #e4e4e4"></div>
<div class="a" style="left:193.2px;top:596.3px;width:43.7px;height:16.6px;border:.7px solid #e4e4e4"></div>
<div class="a" style="left:236.3px;top:596.3px;width:54.5px;height:16.6px;border:.7px solid #e4e4e4"></div>
<div class="a" style="left:290.2px;top:596.3px;width:58.6px;height:16.6px;border:.7px solid #e4e4e4"></div>
<div class="a" style="left:38.0px;top:612.3px;width:61.2px;height:17.3px;border:.7px solid #e4e4e4"></div>
<div class="a" style="left:98.6px;top:612.3px;width:46.3px;height:17.3px;border:.7px solid #e4e4e4"></div>
<div class="a" style="left:144.3px;top:612.3px;width:46.4px;height:17.3px;border:.7px solid #e4e4e4"></div>
<div class="a" style="left:190.1px;top:612.3px;width:46.6px;height:17.3px;border:.7px solid #e4e4e4"></div>
<div class="a" style="left:236.1px;top:612.3px;width:46.1px;height:17.3px;border:.7px solid #e4e4e4"></div>
<div class="a" style="left:281.6px;top:612.3px;width:57.6px;height:17.3px;border:.7px solid #e4e4e4"></div>
<div class="a" style="left:338.6px;top:612.3px;width:58.6px;height:17.3px;border:.7px solid #e4e4e4"></div>
<div class="a" style="left:396.6px;top:612.3px;width:57.6px;height:17.3px;border:.7px solid #e4e4e4"></div>
<div class="a" style="left:44.9px;top:604.2px;width:8.6px;height:.9px;background:#111"></div>
<span class="t" style="left:58.00px;top:601.61px;font-size:6.6px;line-height:6.6px;color:#222;letter-spacing:-0.113px;">Link Status</span>
<div class="a" style="left:101.8px;top:601.4px;width:6.4px;height:6.4px;background:#ff0d0d"></div>
<span class="t" style="left:112.30px;top:601.51px;font-size:6.6px;line-height:6.6px;color:#222;letter-spacing:-0.012px;">ShoutDown</span>
<div class="a" style="left:158.8px;top:601.4px;width:6.4px;height:6.4px;background:#f7941d"></div>
<span class="t" style="left:169.30px;top:601.51px;font-size:6.6px;line-height:6.6px;color:#222;letter-spacing:0.214px;">Down</span>
<div class="a" style="left:199.5px;top:601.4px;width:6.4px;height:6.4px;background:#f2ea17"></div>
<span class="t" style="left:210.00px;top:601.51px;font-size:6.6px;line-height:6.6px;color:#222;letter-spacing:0.141px;">Others</span>
<div class="a" style="left:242.8px;top:601.4px;width:6.4px;height:6.4px;background:#9a9a9a"></div>
<span class="t" style="left:253.30px;top:601.51px;font-size:6.6px;line-height:6.6px;color:#222;letter-spacing:-0.181px;">UnManage</span>
<div class="a" style="left:296.6px;top:601.4px;width:6.4px;height:6.4px;background:#ff0d0d"></div>
<span class="t" style="left:307.10px;top:601.51px;font-size:6.6px;line-height:6.6px;color:#222;letter-spacing:-0.012px;">ShoutDown</span>
<svg style="left:45.6px;top:619.2px" width="9" height="4" viewBox="0 0 11 5"><path d="M0 2.5L2.6 .6V4.4ZM11 2.5L8.4 .6V4.4ZM2 2.5H9" stroke="#111" stroke-width=".9" fill="#111"/></svg>
<span class="t" style="left:59.50px;top:618.01px;font-size:6.6px;line-height:6.6px;color:#222;letter-spacing:-0.178px;">Traffic Load</span>
<div class="a" style="left:105.0px;top:618.0px;width:6.4px;height:6.4px;background:#12129c"></div>
<span class="t" style="left:115.50px;top:618.11px;font-size:6.6px;line-height:6.6px;color:#222;letter-spacing:-0.047px;">00-10%</span>
<div class="a" style="left:150.8px;top:618.0px;width:6.4px;height:6.4px;background:#4877d9"></div>
<span class="t" style="left:161.30px;top:618.11px;font-size:6.6px;line-height:6.6px;color:#222;letter-spacing:0.050px;">11-25%</span>
<div class="a" style="left:196.5px;top:618.0px;width:6.4px;height:6.4px;background:#1ebcf5"></div>
<span class="t" style="left:207.00px;top:618.11px;font-size:6.6px;line-height:6.6px;color:#222;letter-spacing:-0.047px;">26-40%</span>
<div class="a" style="left:242.2px;top:618.0px;width:6.4px;height:6.4px;background:#12e012"></div>
<span class="t" style="left:252.70px;top:618.11px;font-size:6.6px;line-height:6.6px;color:#222;letter-spacing:-0.047px;">41-55%</span>
<div class="a" style="left:288.0px;top:618.0px;width:6.4px;height:6.4px;background:#f2ea17"></div>
<span class="t" style="left:298.50px;top:618.11px;font-size:6.6px;line-height:6.6px;color:#222;letter-spacing:-0.047px;">56-70%</span>
<div class="a" style="left:345.0px;top:618.0px;width:6.4px;height:6.4px;background:#f7941d"></div>
<span class="t" style="left:355.50px;top:618.11px;font-size:6.6px;line-height:6.6px;color:#222;letter-spacing:-0.047px;">71-85%</span>
<div class="a" style="left:402.5px;top:618.0px;width:6.4px;height:6.4px;background:#ff0d0d"></div>
<span class="t" style="left:413.00px;top:618.11px;font-size:6.6px;line-height:6.6px;color:#222;letter-spacing:0.016px;">86-100%</span>
<svg style="left:0;top:0" width="1920" height="990"><path d="M823.30 262.60A92.6 92.6 0 0 1 828.31 262.74L826.62 293.89A61.4 61.4 0 0 0 823.30 293.80Z" fill="#f9ac5b" stroke="#fff" stroke-width="0.6"/><path d="M828.31 262.74A92.6 92.6 0 0 1 838.28 263.82L833.23 294.61A61.4 61.4 0 0 0 826.62 293.89Z" fill="#e9de63" stroke="#fff" stroke-width="0.6"/><path d="M838.28 263.82A92.6 92.6 0 0 1 871.04 275.86L854.96 302.59A61.4 61.4 0 0 0 833.23 294.61Z" fill="#f95b5b" stroke="#fff" stroke-width="0.6"/><path d="M871.04 275.86A92.6 92.6 0 0 1 875.27 278.56L857.76 304.38A61.4 61.4 0 0 0 854.96 302.59Z" fill="#ab4bab" stroke="#fff" stroke-width="0.6"/><path d="M875.27 278.56A92.6 92.6 0 1 1 823.30 262.60L823.30 293.80A61.4 61.4 0 1 0 857.76 304.38Z" fill="#47b97d" stroke="#fff" stroke-width="0.6"/></svg>
<span class="t" style="left:798.80px;top:325.11px;font-size:30px;line-height:30px;color:#555;font-weight:700;letter-spacing:0.797px;">116</span>
<span class="t" style="left:803.80px;top:361.26px;font-size:18px;line-height:18px;color:#555;letter-spacing:0.492px;-webkit-text-stroke:.4px #555;">Total</span>
<div class="a" style="left:652px;top:475px;width:343px;height:66px;border:1px solid #ddd;border-radius:3px 3px 3px 0"></div>
<div class="a" style="left:652px;top:475px;width:172px;height:98px;border:1px solid #ddd;border-radius:3px 0 3px 3px"></div>
<div class="a" style="left:652px;top:507px;width:342px;height:1px;background:#ddd"></div>
<div class="a" style="left:658px;top:483.5px;width:17px;height:17px;border-radius:50%;background:#f9ac5b"></div>
<span class="t" style="left:683.30px;top:484.38px;font-size:15.5px;line-height:15.5px;color:#555;letter-spacing:0.419px;">Trouble</span>
<span class="t" style="left:809.67px;top:484.38px;font-size:15.5px;line-height:15.5px;color:#555;">1</span>
<div class="a" style="left:658px;top:515.8px;width:17px;height:17px;border-radius:50%;background:#f95b5b"></div>
<span class="t" style="left:683.30px;top:516.68px;font-size:15.5px;line-height:15.5px;color:#555;letter-spacing:0.589px;">Critical</span>
<span class="t" style="left:809.67px;top:516.68px;font-size:15.5px;line-height:15.5px;color:#555;">7</span>
<div class="a" style="left:658px;top:548.5px;width:17px;height:17px;border-radius:50%;background:#47b97d"></div>
<span class="t" style="left:683.30px;top:549.38px;font-size:15.5px;line-height:15.5px;color:#555;letter-spacing:0.238px;">Clear</span>
<span class="t" style="left:790.80px;top:549.38px;font-size:15.5px;line-height:15.5px;color:#555;letter-spacing:0.812px;">105</span>
<div class="a" style="left:829px;top:483.5px;width:17px;height:17px;border-radius:50%;background:#e9de63"></div>
<span class="t" style="left:854.30px;top:484.38px;font-size:15.5px;line-height:15.5px;color:#555;letter-spacing:0.977px;">Attention</span>
<span class="t" style="left:980.88px;top:484.38px;font-size:15.5px;line-height:15.5px;color:#555;">2</span>
<div class="a" style="left:829px;top:515.8px;width:17px;height:17px;border-radius:50%;background:#ab4bab"></div>
<span class="t" style="left:854.30px;top:516.68px;font-size:15.5px;line-height:15.5px;color:#555;letter-spacing:0.216px;">Service Down</span>
<span class="t" style="left:980.88px;top:516.68px;font-size:15.5px;line-height:15.5px;color:#555;">1</span>
<div class="a" style="left:1003px;top:238px;width:200px;height:336px;overflow:hidden"><div class="a" style="left:0px;top:0px;width:37px;height:37px;border-radius:4px;background:#f95b5b"></div><div class="a" style="left:40px;top:0px;width:37px;height:37px;border-radius:4px;background:#f95b5b"></div><div class="a" style="left:80px;top:0px;width:37px;height:37px;border-radius:4px;background:#f95b5b"></div><div class="a" style="left:120px;top:0px;width:37px;height:37px;border-radius:4px;background:#f95b5b"></div><div class="a" style="left:160px;top:0px;width:37px;height:37px;border-radius:4px;background:#f95b5b"></div><div class="a" style="left:0px;top:40px;width:37px;height:37px;border-radius:4px;background:#f95b5b"></div><div class="a" style="left:40px;top:40px;width:37px;height:37px;border-radius:4px;background:#f95b5b"></div><div class="a" style="left:80px;top:40px;width:37px;height:37px;border-radius:4px;background:#f9ac5b"></div><div class="a" style="left:120px;top:40px;width:37px;height:37px;border-radius:4px;background:#e9de63"></div><div class="a" style="left:160px;top:40px;width:37px;height:37px;border-radius:4px;background:#e9de63"></div><div class="a" style="left:0px;top:80px;width:37px;height:37px;border-radius:4px;background:#ab4bab"></div><div class="a" style="left:40px;top:80px;width:37px;height:37px;border-radius:4px;background:#47b97d"></div><div class="a" style="left:80px;top:80px;width:37px;height:37px;border-radius:4px;background:#47b97d"></div><div class="a" style="left:120px;top:80px;width:37px;height:37px;border-radius:4px;background:#47b97d"></div><div class="a" style="left:160px;top:80px;width:37px;height:37px;border-radius:4px;background:#47b97d"></div><div class="a" style="left:0px;top:120px;width:37px;height:37px;border-radius:4px;background:#47b97d"></div><div class="a" style="left:40px;top:120px;width:37px;height:37px;border-radius:4px;background:#47b97d"></div><div class="a" style="left:80px;top:120px;width:37px;height:37px;border-radius:4px;background:#47b97d"></div><div class="a" style="left:120px;top:120px;width:37px;height:37px;border-radius:4px;background:#47b97d"></div><div class="a" style="left:160px;top:120px;width:37px;height:37px;border-radius:4px;background:#47b97d"></div><div class="a" style="left:0px;top:160px;width:37px;height:37px;border-radius:4px;background:#47b97d"></div><div class="a" style="left:40px;top:160px;width:37px;height:37px;border-radius:4px;background:#47b97d"></div><div class="a" style="left:80px;top:160px;width:37px;height:37px;border-radius:4px;background:#47b97d"></div><div class="a" style="left:120px;top:160px;width:37px;height:37px;border-radius:4px;background:#47b97d"></div><div class="a" style="left:160px;top:160px;width:37px;height:37px;border-radius:4px;background:#47b97d"></div><div class="a" style="left:0px;top:200px;width:37px;height:37px;border-radius:4px;background:#47b97d"></div><div class="a" style="left:40px;top:200px;width:37px;height:37px;border-radius:4px;background:#47b97d"></div><div class="a" style="left:80px;top:200px;width:37px;height:37px;border-radius:4px;background:#47b97d"></div><div class="a" style="left:120px;top:200px;width:37px;height:37px;border-radius:4px;background:#47b97d"></div><div class="a" style="left:160px;top:200px;width:37px;height:37px;border-radius:4px;background:#47b97d"></div><div class="a" style="left:0px;top:240px;width:37px;height:37px;border-radius:4px;background:#47b97d"></div><div class="a" style="left:40px;top:240px;width:37px;height:37px;border-radius:4px;background:#47b97d"></div><div class="a" style="left:80px;top:240px;width:37px;height:37px;border-radius:4px;background:#47b97d"></div><div class="a" style="left:120px;top:240px;width:37px;height:37px;border-radius:4px;background:#47b97d"></div><div class="a" style="left:160px;top:240px;width:37px;height:37px;border-radius:4px;background:#47b97d"></div><div class="a" style="left:0px;top:280px;width:37px;height:37px;border-radius:4px;background:#47b97d"></div><div class="a" style="left:40px;top:280px;width:37px;height:37px;border-radius:4px;background:#47b97d"></div><div class="a" style="left:80px;top:280px;width:37px;height:37px;border-radius:4px;background:#47b97d"></div><div class="a" style="left:120px;top:280px;width:37px;height:37px;border-radius:4px;background:#47b97d"></div><div class="a" style="left:160px;top:280px;width:37px;height:37px;border-radius:4px;background:#47b97d"></div><div class="a" style="left:0px;top:320px;width:37px;height:37px;border-radius:4px;background:#47b97d"></div><div class="a" style="left:40px;top:320px;width:37px;height:37px;border-radius:4px;background:#47b97d"></div><div class="a" style="left:80px;top:320px;width:37px;height:37px;border-radius:4px;background:#47b97d"></div><div class="a" style="left:120px;top:320px;width:37px;height:37px;border-radius:4px;background:#47b97d"></div><div class="a" style="left:160px;top:320px;width:37px;height:37px;border-radius:4px;background:#47b97d"></div><div class="a" style="left:0px;top:360px;width:37px;height:37px;border-radius:4px;background:#47b97d"></div><div class="a" style="left:40px;top:360px;width:37px;height:37px;border-radius:4px;background:#47b97d"></div><div class="a" style="left:80px;top:360px;width:37px;height:37px;border-radius:4px;background:#47b97d"></div><div class="a" style="left:120px;top:360px;width:37px;height:37px;border-radius:4px;background:#47b97d"></div><div class="a" style="left:160px;top:360px;width:37px;height:37px;border-radius:4px;background:#47b97d"></div><div class="a" style="left:0px;top:400px;width:37px;height:37px;border-radius:4px;background:#47b97d"></div></div>
<div class="a" style="left:1230px;top:238px;width:13px;height:336px;background:#fafafa"></div>
<svg style="left:1232px;top:244px" width="9" height="6" viewBox="0 0 9 6"><path d="M0 5.5L4.5 0.5L9 5.5Z" fill="#555"/></svg>
<svg style="left:1232px;top:560px" width="9" height="6" viewBox="0 0 9 6"><path d="M0 .5L4.5 5.5L9 .5Z" fill="#555"/></svg>
<div class="a" style="left:1233px;top:256px;width:7px;height:105px;background:#8a8a8a;border-radius:4px"></div>
<svg style="left:0;top:0" width="1920" height="990"><path d="M930.44 1002.51A155.6 155.6 0 0 1 840.24 1035.87L838.53 993.31A113 113 0 0 0 904.04 969.08Z" fill="#f9ac5b" stroke="#fff" stroke-width="1"/><path d="M840.24 1035.87A155.6 155.6 0 1 1 930.44 1002.51L904.04 969.08A113 113 0 1 0 838.53 993.31Z" fill="#e9de63" stroke="#fff" stroke-width="1"/><g transform="translate(833.5,828.3)" fill="none" stroke="#111" stroke-width="3" stroke-linecap="butt">
      <path d="M-16.5 16 C-11 10 -11.5 2 -11.5 -6 C-11.5 -14 -6 -20 0 -20 C6 -20 11.5 -14 11.5 -6 C11.5 2 11 10 16.5 16 Z" stroke-linejoin="round"/>
      <path d="M0 -20 V-26"/>
      <path d="M-4 19 A4 4 0 0 0 4 19" fill="#111" stroke-width="1"/>
      <path d="M-14.5 -21.5 L-22.5 -29"/><path d="M14.5 -21.5 L22.5 -29"/>
      <path d="M-20.5 -9.5 L-31 -13"/><path d="M20.5 -9.5 L31 -13"/>
      <path d="M-20.5 2.5 L-31 6"/><path d="M20.5 2.5 L31 6"/>
    </g></svg>
<span class="t" style="left:810.00px;top:858.41px;font-size:45px;line-height:45px;color:#1a1a1a;letter-spacing:-1.062px;">10</span>
<span class="t" style="left:804.00px;top:908.68px;font-size:24px;line-height:24px;color:#1a1a1a;letter-spacing:-0.668px;">Alarm</span>
<div class="a" style="left:1041px;top:865px;width:25px;height:21px;background:#f9ac5b"></div>
<div class="a" style="left:1041px;top:898px;width:25px;height:21px;background:#e9de63"></div>
<span class="t" style="left:1073.00px;top:866.76px;font-size:18px;line-height:18px;color:#222;letter-spacing:-0.698px;">Trouble ( 1 )</span>
<span class="t" style="left:1073.00px;top:899.76px;font-size:18px;line-height:18px;color:#222;letter-spacing:-0.254px;">Attention ( 9 )</span>
<span class="t" style="left:1347.00px;top:232.23px;font-size:14.5px;line-height:14.5px;color:#222;letter-spacing:0.271px;-webkit-text-stroke:.5px #222;">Name</span>
<div class="a" style="left:1280px;top:269px;width:603px;height:1px;background:#dcdcdc"></div>
<svg style="left:1291.5px;top:279.43px" width="22" height="22" viewBox="-11 -11 22 22"><circle r="10.65" fill="#f95b5b"/><path d="M-5 -5 L5 5 M5 -5 L-5 5" fill="none" stroke="#fff" stroke-width="3.1"/></svg>
<span class="t" style="left:1347.00px;top:283.20px;font-size:14.8px;line-height:14.8px;color:#222;letter-spacing:-0.219px;">Server</span>
<div class="a" style="left:1280px;top:308px;width:603px;height:1px;background:#dcdcdc"></div>
<svg style="left:1291.5px;top:317.89px" width="22" height="22" viewBox="-11 -11 22 22"><circle r="10.65" fill="#47b97d"/><path d="M-6.2 -0.4 L-0.9 4.9 L6.3 -3.6" fill="none" stroke="#fff" stroke-width="3.1"/></svg>
<span class="t" style="left:1347.00px;top:321.66px;font-size:14.8px;line-height:14.8px;color:#222;letter-spacing:0.316px;">Router</span>
<div class="a" style="left:1280px;top:346px;width:603px;height:1px;background:#dcdcdc"></div>
<svg style="left:1291.5px;top:356.35px" width="22" height="22" viewBox="-11 -11 22 22"><circle r="10.65" fill="#47b97d"/><path d="M-6.2 -0.4 L-0.9 4.9 L6.3 -3.6" fill="none" stroke="#fff" stroke-width="3.1"/></svg>
<span class="t" style="left:1347.00px;top:360.12px;font-size:14.8px;line-height:14.8px;color:#222;letter-spacing:0.081px;">Switch</span>
<div class="a" style="left:1280px;top:385px;width:603px;height:1px;background:#dcdcdc"></div>
<svg style="left:1291.5px;top:394.81px" width="22" height="22" viewBox="-11 -11 22 22"><circle r="10.65" fill="#47b97d"/><path d="M-6.2 -0.4 L-0.9 4.9 L6.3 -3.6" fill="none" stroke="#fff" stroke-width="3.1"/></svg>
<span class="t" style="left:1347.00px;top:398.58px;font-size:14.8px;line-height:14.8px;color:#222;letter-spacing:-0.049px;">Desktop</span>
<div class="a" style="left:1280px;top:423px;width:603px;height:1px;background:#dcdcdc"></div>
<svg style="left:1291.5px;top:433.27px" width="22" height="22" viewBox="-11 -11 22 22"><circle r="10.65" fill="#47b97d"/><path d="M-6.2 -0.4 L-0.9 4.9 L6.3 -3.6" fill="none" stroke="#fff" stroke-width="3.1"/></svg>
<span class="t" style="left:1347.00px;top:437.04px;font-size:14.8px;line-height:14.8px;color:#222;letter-spacing:0.359px;">Firewall</span>
<div class="a" style="left:1280px;top:462px;width:603px;height:1px;background:#dcdcdc"></div>
<svg style="left:1291.5px;top:471.73px" width="22" height="22" viewBox="-11 -11 22 22"><circle r="10.65" fill="#a349b5"/><path d="M0 -6 V3.5 M-5.6 -0.6 L0 5 L5.6 -0.6" fill="none" stroke="#fff" stroke-width="3"/></svg>
<span class="t" style="left:1347.00px;top:475.50px;font-size:14.8px;line-height:14.8px;color:#222;letter-spacing:-0.078px;">Domain Controller</span>
<div class="a" style="left:1280px;top:500px;width:603px;height:1px;background:#dcdcdc"></div>
<svg style="left:1291.5px;top:510.19px" width="22" height="22" viewBox="-11 -11 22 22"><circle r="10.65" fill="#47b97d"/><path d="M-6.2 -0.4 L-0.9 4.9 L6.3 -3.6" fill="none" stroke="#fff" stroke-width="3.1"/></svg>
<span class="t" style="left:1347.00px;top:513.96px;font-size:14.8px;line-height:14.8px;color:#222;letter-spacing:-0.286px;">Load Balancer</span>
<div class="a" style="left:1280px;top:539px;width:603px;height:1px;background:#dcdcdc"></div>
<svg style="left:1291.5px;top:548.65px" width="22" height="22" viewBox="-11 -11 22 22"><circle r="10.65" fill="#47b97d"/><path d="M-6.2 -0.4 L-0.9 4.9 L6.3 -3.6" fill="none" stroke="#fff" stroke-width="3.1"/></svg>
<span class="t" style="left:1347.00px;top:552.42px;font-size:14.8px;line-height:14.8px;color:#222;letter-spacing:-0.008px;">WAN Accelerator</span>
<div class="a" style="left:1280px;top:577px;width:603px;height:1px;background:#dcdcdc"></div>
<svg style="left:1291.5px;top:587.11px" width="22" height="22" viewBox="-11 -11 22 22"><circle r="10.65" fill="#47b97d"/><path d="M-6.2 -0.4 L-0.9 4.9 L6.3 -3.6" fill="none" stroke="#fff" stroke-width="3.1"/></svg>
<span class="t" style="left:1347.00px;top:590.88px;font-size:14.8px;line-height:14.8px;color:#222;letter-spacing:-0.962px;">Wireless</span>
<div class="a" style="left:1280px;top:615px;width:603px;height:1px;background:#dcdcdc"></div>
<svg style="left:1291.5px;top:625.57px" width="22" height="22" viewBox="-11 -11 22 22"><circle r="10.65" fill="#47b97d"/><path d="M-6.2 -0.4 L-0.9 4.9 L6.3 -3.6" fill="none" stroke="#fff" stroke-width="3.1"/></svg>
<span class="t" style="left:1347.00px;top:629.34px;font-size:14.8px;line-height:14.8px;color:#222;letter-spacing:-0.969px;">UPS</span>
<div class="a" style="left:1280px;top:654px;width:603px;height:1px;background:#dcdcdc"></div>
<svg style="left:1291.5px;top:664.03px" width="22" height="22" viewBox="-11 -11 22 22"><circle r="10.65" fill="#47b97d"/><path d="M-6.2 -0.4 L-0.9 4.9 L6.3 -3.6" fill="none" stroke="#fff" stroke-width="3.1"/></svg>
<span class="t" style="left:1347.00px;top:667.80px;font-size:14.8px;line-height:14.8px;color:#222;letter-spacing:0.484px;">Printer</span>
<div class="a" style="left:1280px;top:692px;width:603px;height:1px;background:#dcdcdc"></div>
<svg style="left:1291.5px;top:702.49px" width="22" height="22" viewBox="-11 -11 22 22"><circle r="10.65" fill="#f95b5b"/><path d="M-5 -5 L5 5 M5 -5 L-5 5" fill="none" stroke="#fff" stroke-width="3.1"/></svg>
<span class="t" style="left:1347.00px;top:706.26px;font-size:14.8px;line-height:14.8px;color:#222;letter-spacing:0.052px;">Unknown</span>
<div class="a" style="left:1280px;top:731px;width:603px;height:1px;background:#dcdcdc"></div>
<svg style="left:1291.5px;top:740.95px" width="22" height="22" viewBox="-11 -11 22 22"><circle r="10.65" fill="#47b97d"/><path d="M-6.2 -0.4 L-0.9 4.9 L6.3 -3.6" fill="none" stroke="#fff" stroke-width="3.1"/></svg>
<span class="t" style="left:1347.00px;top:744.72px;font-size:14.8px;line-height:14.8px;color:#222;letter-spacing:-0.055px;">Storage</span>
<div class="a" style="left:1280px;top:769px;width:603px;height:1px;background:#dcdcdc"></div>
<svg style="left:1291.5px;top:779.41px" width="22" height="22" viewBox="-11 -11 22 22"><circle r="10.65" fill="#47b97d"/><path d="M-6.2 -0.4 L-0.9 4.9 L6.3 -3.6" fill="none" stroke="#fff" stroke-width="3.1"/></svg>
<span class="t" style="left:1347.00px;top:783.18px;font-size:14.8px;line-height:14.8px;color:#222;letter-spacing:-0.125px;">PDU</span>
<div class="a" style="left:1280px;top:808px;width:603px;height:1px;background:#dcdcdc"></div>
<svg style="left:1291.5px;top:817.87px" width="22" height="22" viewBox="-11 -11 22 22"><circle r="10.65" fill="#47b97d"/><path d="M-6.2 -0.4 L-0.9 4.9 L6.3 -3.6" fill="none" stroke="#fff" stroke-width="3.1"/></svg>
<span class="t" style="left:1347.00px;top:821.64px;font-size:14.8px;line-height:14.8px;color:#222;letter-spacing:-0.875px;">UCS</span>
<div class="a" style="left:1280px;top:846px;width:603px;height:1px;background:#dcdcdc"></div>
<svg style="left:1291.5px;top:856.33px" width="22" height="22" viewBox="-11 -11 22 22"><circle r="10.65" fill="#47b97d"/><path d="M-6.2 -0.4 L-0.9 4.9 L6.3 -3.6" fill="none" stroke="#fff" stroke-width="3.1"/></svg>
<span class="t" style="left:1347.00px;top:860.10px;font-size:14.8px;line-height:14.8px;color:#222;letter-spacing:0.214px;">RAID</span>
<div class="a" style="left:1280px;top:885px;width:603px;height:1px;background:#dcdcdc"></div>
<svg style="left:1291.5px;top:894.79px" width="22" height="22" viewBox="-11 -11 22 22"><circle r="10.65" fill="#47b97d"/><path d="M-6.2 -0.4 L-0.9 4.9 L6.3 -3.6" fill="none" stroke="#fff" stroke-width="3.1"/></svg>
<span class="t" style="left:1347.00px;top:898.56px;font-size:14.8px;line-height:14.8px;color:#222;letter-spacing:-0.045px;">FCSwitch</span>
<div class="a" style="left:1280px;top:923px;width:603px;height:1px;background:#dcdcdc"></div>
<svg style="left:1291.5px;top:933.25px" width="22" height="22" viewBox="-11 -11 22 22"><circle r="10.65" fill="#47b97d"/><path d="M-6.2 -0.4 L-0.9 4.9 L6.3 -3.6" fill="none" stroke="#fff" stroke-width="3.1"/></svg>
<span class="t" style="left:1347.00px;top:937.02px;font-size:14.8px;line-height:14.8px;color:#222;letter-spacing:0.067px;">TapeLibrary</span>
<div class="a" style="left:1280px;top:962px;width:603px;height:1px;background:#dcdcdc"></div>
<svg style="left:1291.5px;top:982.50px" width="22" height="22" viewBox="-11 -11 22 22"><circle r="10.65" fill="#47b97d"/><path d="M-6.2 -0.4 L-0.9 4.9 L6.3 -3.6" fill="none" stroke="#fff" stroke-width="3.1"/></svg>
<span class="t" style="left:1347.00px;top:972.97px;font-size:14.8px;line-height:14.8px;color:#222;letter-spacing:0.034px;">Wireless LAN</span>
<span class="t" style="left:1512.00px;top:984.97px;font-size:14.8px;line-height:14.8px;color:#222;">0</span>
<span class="t" style="left:1622.00px;top:984.97px;font-size:14.8px;line-height:14.8px;color:#222;">0</span>
<span class="t" style="left:1732.00px;top:984.97px;font-size:14.8px;line-height:14.8px;color:#222;">0</span>
<span class="t" style="left:36.00px;top:759.73px;font-size:14.5px;line-height:14.5px;color:#222;letter-spacing:0.147px;-webkit-text-stroke:.5px #222;">Device Name</span>
<span class="t" style="left:185.70px;top:769.26px;font-size:18px;line-height:18px;color:#222;letter-spacing:-0.583px;-webkit-text-stroke:.35px #222;">Min (%)</span>
<span class="t" style="left:335.00px;top:769.26px;font-size:18px;line-height:18px;color:#222;letter-spacing:-0.750px;-webkit-text-stroke:.35px #222;">Max (%)</span>
<span class="t" style="left:484.00px;top:759.73px;font-size:14.5px;line-height:14.5px;color:#222;letter-spacing:0.633px;-webkit-text-stroke:.5px #222;">Avg</span>
<span class="t" style="left:484.50px;top:782.65px;font-size:14px;line-height:14px;color:#222;letter-spacing:-1.141px;">(%)</span>
<div class="a" style="left:36px;top:812px;width:579px;height:1px;background:#d9d9d9"></div>
<div class="a" style="left:33px;top:817px;width:117px;height:21px;background:#c3c3c3"></div>
<span class="t" style="left:185.70px;top:822.70px;font-size:15px;line-height:15px;color:#222;letter-spacing:-0.188px;">95</span>
<span class="t" style="left:335.00px;top:822.70px;font-size:15px;line-height:15px;color:#222;letter-spacing:-0.188px;">95</span>
<div class="a" style="left:484px;top:827px;width:47px;height:6px;background:#d6d6d6"></div>
<div class="a" style="left:484px;top:827px;width:44.6px;height:6px;background:#f5575b"></div>
<span class="t" style="left:544.30px;top:822.70px;font-size:15px;line-height:15px;color:#222;letter-spacing:-0.188px;">95</span>
<div class="a" style="left:36px;top:848px;width:579px;height:1px;background:#d9d9d9"></div>
<div class="a" style="left:33px;top:858px;width:117px;height:19px;background:#c3c3c3"></div>
<span class="t" style="left:185.70px;top:858.70px;font-size:15px;line-height:15px;color:#222;letter-spacing:-0.188px;">94</span>
<span class="t" style="left:335.00px;top:858.70px;font-size:15px;line-height:15px;color:#222;letter-spacing:-0.188px;">95</span>
<div class="a" style="left:484px;top:863px;width:47px;height:6px;background:#d6d6d6"></div>
<div class="a" style="left:484px;top:863px;width:44.2px;height:6px;background:#f5575b"></div>
<span class="t" style="left:544.30px;top:858.70px;font-size:15px;line-height:15px;color:#222;letter-spacing:-0.188px;">94</span>
<div class="a" style="left:36px;top:884px;width:579px;height:1px;background:#d9d9d9"></div>
<div class="a" style="left:35px;top:896px;width:120px;height:20px;background:#c3c3c3"></div>
<span class="t" style="left:185.70px;top:894.70px;font-size:15px;line-height:15px;color:#222;letter-spacing:-0.188px;">93</span>
<span class="t" style="left:335.00px;top:894.70px;font-size:15px;line-height:15px;color:#222;letter-spacing:-0.188px;">96</span>
<div class="a" style="left:484px;top:899px;width:47px;height:6px;background:#d6d6d6"></div>
<div class="a" style="left:484px;top:899px;width:44.2px;height:6px;background:#f5575b"></div>
<span class="t" style="left:544.30px;top:894.70px;font-size:15px;line-height:15px;color:#222;letter-spacing:-0.188px;">94</span>
<div class="a" style="left:36px;top:920px;width:579px;height:1px;background:#d9d9d9"></div>
<div class="a" style="left:33px;top:927px;width:114px;height:21px;background:#c3c3c3"></div>
<span class="t" style="left:185.70px;top:930.70px;font-size:15px;line-height:15px;color:#222;letter-spacing:-0.188px;">87</span>
<span class="t" style="left:335.00px;top:930.70px;font-size:15px;line-height:15px;color:#222;letter-spacing:-0.188px;">92</span>
<div class="a" style="left:484px;top:935px;width:47px;height:6px;background:#d6d6d6"></div>
<div class="a" style="left:484px;top:935px;width:41.8px;height:6px;background:#f5575b"></div>
<span class="t" style="left:544.30px;top:930.70px;font-size:15px;line-height:15px;color:#222;letter-spacing:-0.188px;">89</span>
<div class="a" style="left:36px;top:956px;width:579px;height:1px;background:#d9d9d9"></div>
<div class="a" style="left:34px;top:963px;width:114px;height:21px;background:#c3c3c3"></div>
<span class="t" style="left:185.70px;top:966.70px;font-size:15px;line-height:15px;color:#222;letter-spacing:-0.188px;">84</span>
<span class="t" style="left:335.00px;top:966.70px;font-size:15px;line-height:15px;color:#222;letter-spacing:-0.188px;">87</span>
<div class="a" style="left:484px;top:971px;width:47px;height:6px;background:#d6d6d6"></div>
<div class="a" style="left:484px;top:971px;width:40.0px;height:6px;background:#f5575b"></div>
<span class="t" style="left:544.30px;top:966.70px;font-size:15px;line-height:15px;color:#222;letter-spacing:-0.188px;">85</span>
<div class="a" style="left:5px;top:93px;width:1897px;height:50px;background:#fff0bb;box-shadow:0 3px 10px rgba(0,0,0,.28)"></div>
<span class="t" style="left:441.00px;top:108.76px;font-size:18px;line-height:18px;color:#111;font-weight:700;letter-spacing:-0.856px;">Create your own Dashboard</span>
<span class="t" style="left:661.30px;top:108.76px;font-size:18px;line-height:18px;color:#111;">:</span>
<span class="t" style="left:668.70px;top:108.76px;font-size:18px;line-height:18px;color:#111;letter-spacing:-0.445px;">You can add custom dashboards with required widgets and share it with your team.</span>
<span class="t" style="left:1299.30px;top:108.76px;font-size:18px;line-height:18px;color:#1d5a8c;letter-spacing:-0.267px;text-decoration:underline;">Click here to create</span>
<div class="a" style="left:5px;top:43px;width:1910px;height:50px;background:#fafafa"></div>
<div class="a" style="left:1275px;top:43px;width:640px;height:50px;background:#fff"></div>
<div class="a" style="left:5px;top:90px;width:195px;height:3px;background:#49bb7e"></div>
<span class="t" style="left:30.00px;top:50.73px;font-size:14.5px;line-height:14.5px;color:#444;letter-spacing:0.580px;">Overview</span>
<span class="t" style="left:30.00px;top:68.73px;font-size:14.5px;line-height:14.5px;color:#444;font-weight:700;letter-spacing:-0.253px;">Enterprise Dash...</span>
<svg style="left:179.5px;top:63.5px" width="12" height="8" viewBox="0 0 12 8"><path d="M1.2 1.6 L6 6.2 L10.8 1.6" fill="none" stroke="#777" stroke-width="1.3"/></svg>
<span class="t" style="left:231.00px;top:57.76px;font-size:18px;line-height:18px;color:#777;letter-spacing:0.381px;">Network</span>
<svg style="left:329.5px;top:63.5px" width="12" height="8" viewBox="0 0 12 8"><path d="M1.2 1.6 L6 6.2 L10.8 1.6" fill="none" stroke="#888" stroke-width="1.3"/></svg>
<span class="t" style="left:386.00px;top:57.76px;font-size:18px;line-height:18px;color:#777;letter-spacing:-0.619px;">Servers</span>
<svg style="left:479.5px;top:63.5px" width="12" height="8" viewBox="0 0 12 8"><path d="M1.2 1.6 L6 6.2 L10.8 1.6" fill="none" stroke="#888" stroke-width="1.3"/></svg>
<span class="t" style="left:525.00px;top:57.76px;font-size:18px;line-height:18px;color:#777;letter-spacing:0.174px;">Virtualization</span>
<svg style="left:653.3px;top:63.5px" width="12" height="8" viewBox="0 0 12 8"><path d="M1.2 1.6 L6 6.2 L10.8 1.6" fill="none" stroke="#888" stroke-width="1.3"/></svg>
<span class="t" style="left:710.50px;top:57.76px;font-size:18px;line-height:18px;color:#777;letter-spacing:-0.674px;">Storage</span>
<svg style="left:803.3px;top:63.5px" width="12" height="8" viewBox="0 0 12 8"><path d="M1.2 1.6 L6 6.2 L10.8 1.6" fill="none" stroke="#888" stroke-width="1.3"/></svg>
<span class="t" style="left:857.30px;top:57.76px;font-size:18px;line-height:18px;color:#777;letter-spacing:0.031px;">NetFlow</span>
<svg style="left:953.3px;top:63.5px" width="12" height="8" viewBox="0 0 12 8"><path d="M1.2 1.6 L6 6.2 L10.8 1.6" fill="none" stroke="#888" stroke-width="1.3"/></svg>
<span class="t" style="left:1020.00px;top:57.76px;font-size:18px;line-height:18px;color:#777;">NCM</span>
<svg style="left:1103.3px;top:63.5px" width="12" height="8" viewBox="0 0 12 8"><path d="M1.2 1.6 L6 6.2 L10.8 1.6" fill="none" stroke="#888" stroke-width="1.3"/></svg>
<span class="t" style="left:1159.30px;top:57.76px;font-size:18px;line-height:18px;color:#777;letter-spacing:-0.045px;">Firewall</span>
<svg style="left:1253.3px;top:63.5px" width="12" height="8" viewBox="0 0 12 8"><path d="M1.2 1.6 L6 6.2 L10.8 1.6" fill="none" stroke="#888" stroke-width="1.3"/></svg>
<span class="t" style="left:1300.00px;top:57.76px;font-size:18px;line-height:18px;color:#777;letter-spacing:0.328px;">More</span>
<svg style="left:1366px;top:62px" width="10" height="6" viewBox="0 0 10 6"><path d="M0 0H10L5 6Z" fill="#555"/></svg>
<div class="a" style="left:5px;top:0;width:1910px;height:43px;background:#232323"></div>
<div class="a" style="left:5px;top:0;width:140px;height:43px;background:#49bb7e"></div>
<span class="t" style="left:32.70px;top:12.99px;font-size:17.5px;line-height:17.5px;color:#fff;letter-spacing:-0.203px;text-shadow:0 0 .4px #fff;">Dashboard</span>
<span class="t" style="left:172.00px;top:12.99px;font-size:17.5px;line-height:17.5px;color:#fff;letter-spacing:0.339px;text-shadow:0 0 .4px #fff;">Inventory</span>
<span class="t" style="left:302.00px;top:12.99px;font-size:17.5px;line-height:17.5px;color:#fff;letter-spacing:0.635px;text-shadow:0 0 .4px #fff;">Network</span>
<span class="t" style="left:425.00px;top:12.99px;font-size:17.5px;line-height:17.5px;color:#fff;letter-spacing:-0.433px;text-shadow:0 0 .4px #fff;">Servers</span>
<span class="t" style="left:538.00px;top:12.99px;font-size:17.5px;line-height:17.5px;color:#fff;letter-spacing:-0.333px;text-shadow:0 0 .4px #fff;">Storage</span>
<span class="t" style="left:652.70px;top:12.99px;font-size:17.5px;line-height:17.5px;color:#fff;letter-spacing:0.057px;text-shadow:0 0 .4px #fff;">Applications</span>
<span class="t" style="left:803.00px;top:12.99px;font-size:17.5px;line-height:17.5px;color:#fff;letter-spacing:-0.091px;text-shadow:0 0 .4px #fff;">Alarms</span>
<span class="t" style="left:912.30px;top:12.99px;font-size:17.5px;line-height:17.5px;color:#fff;letter-spacing:-0.266px;text-shadow:0 0 .4px #fff;">Maps</span>
<span class="t" style="left:1009.30px;top:12.99px;font-size:17.5px;line-height:17.5px;color:#fff;letter-spacing:0.352px;text-shadow:0 0 .4px #fff;">Automation</span>
<span class="t" style="left:1156.00px;top:12.99px;font-size:17.5px;line-height:17.5px;color:#fff;letter-spacing:-0.176px;text-shadow:0 0 .4px #fff;">Settings</span>
<span class="t" style="left:1273.00px;top:12.99px;font-size:17.5px;line-height:17.5px;color:#fff;letter-spacing:-0.047px;text-shadow:0 0 .4px #fff;">Reports</span>
<div class="a" style="left:1893.9px;top:9.799999999999999px;width:7.2px;height:7.2px;border-radius:50%;background:#fff"></div>
<div class="a" style="left:1893.9px;top:18.200000000000003px;width:7.2px;height:7.2px;border-radius:50%;background:#fff"></div>
<div class="a" style="left:1893.9px;top:26.6px;width:7.2px;height:7.2px;border-radius:50%;background:#fff"></div>
<div class="a" style="left:1902px;top:93px;width:13px;height:897px;background:#f5f5f5;border-radius:0 0 10px 0"></div>
<svg style="left:1904px;top:100px" width="9" height="6" viewBox="0 0 9 6"><path d="M0 5.5L4.5 0.5L9 5.5Z" fill="#8a8a8a"/></svg>
<svg style="left:1904px;top:976px" width="9" height="6" viewBox="0 0 9 6"><path d="M0 .5L4.5 5.5L9 .5Z" fill="#8a8a8a"/></svg>
<div class="a" style="left:1905px;top:112px;width:7px;height:171px;background:#8a8a8a;border-radius:4px"></div>
<div class="a" style="left:1398px;top:32px;width:500px;height:940px;border-radius:30px;background:#29aa67;box-shadow:0 0 14px rgba(0,0,0,.35);overflow:hidden">
<div class="a" style="left:0;top:105px;width:500px;height:835px;background:#fff;border-radius:30px 30px 0 0"></div>
<div class="a" style="left:487px;top:105px;width:13px;height:835px;background:#fafafa"></div>
<svg style="left:489px;top:925px" width="9" height="6" viewBox="0 0 9 6"><path d="M0 .5L4.5 5.5L9 .5Z" fill="#8a8a8a"/></svg>
</div>
<svg style="left:1410.0px;top:55.0px" width="60" height="60" viewBox="0 0 60 60"><circle cx="30.5" cy="29.5" r="22" fill="#fff" stroke="#fff" stroke-width="1"/><g opacity="1.0"><path d="M17.6 27 C17.6 19.5 23.5 15.4 31 15.4 C38.5 15.4 44.6 19.5 44.6 27" fill="none" stroke="#1a9d7c" stroke-width="0.9"/><rect x="15" y="26" width="3" height="7.4" rx="1.2" fill="#1fcc9c"/><rect x="44" y="26" width="3" height="6.8" rx="1.2" fill="#1fcc9c"/><path d="M17.4 33 C17.4 35.5 17.8 37 18.6 38" fill="none" stroke="#1a9d7c" stroke-width="0.8"/><path d="M18.2 37 L20.3 39.6" stroke="#1a9d7c" stroke-width="2" stroke-linecap="round"/><ellipse cx="31" cy="29.8" rx="11.6" ry="12" fill="#1fcc9c"/><path d="M34.5 40.6 L40.2 43.2 L39.8 37.6 Z" fill="#1fcc9c"/><path d="M22.4 30.2 C22.4 25.6 26 23.3 31 23.3 C36 23.3 39.7 25.6 39.7 30.2 C39.7 33.8 36.5 35.2 31 35.2 C25.5 35.2 22.4 33.8 22.4 30.2Z" fill="#fff"/><circle cx="26.7" cy="29" r="1.45" fill="#1fcc9c"/><circle cx="35.4" cy="29" r="1.45" fill="#1fcc9c"/><path d="M28.9 31.3 H33.1 A2.1 2.1 0 0 1 28.9 31.3Z" fill="#1fcc9c"/></g></svg>
<span class="t" style="left:1472.50px;top:72.99px;font-size:26px;line-height:26px;color:#fff;font-weight:700;letter-spacing:-1.750px;">Ask Zia</span>
<div class="a" style="left:1803px;top:70px;width:30px;height:30px;border-radius:3px;background:#47bb7f"></div>
<div class="a" style="left:1848px;top:70px;width:30px;height:30px;border-radius:3px;background:#47bb7f"></div>
<svg style="left:1803px;top:70px" width="30" height="30" viewBox="0 0 30 30"><path d="M9.2 12.3 A6.6 6.6 0 1 1 10.2 20.3" fill="none" stroke="#fff" stroke-width="1.9" stroke-linecap="round"/><path d="M8.6 8 V13 H13.4" fill="none" stroke="#fff" stroke-width="1.6" stroke-linecap="round" stroke-linejoin="round"/></svg>
<div class="a" style="left:1855.5px;top:83.5px;width:15.5px;height:2px;background:#fff"></div>
<svg style="left:1887px;top:144px" width="9" height="6" viewBox="0 0 9 6"><path d="M0 5.5L4.5 0.5L9 5.5Z" fill="#8a8a8a"/></svg>
<div class="a" style="left:1888px;top:300px;width:7px;height:282px;background:#8a8a8a;border-radius:4px"></div>
<div class="a" style="left:1624px;top:140.2px;width:241px;height:40.4px;border-radius:20px;background:#47bb7f"></div>
<span class="t" style="left:1639.60px;top:152.11px;font-size:17px;line-height:17px;color:#fff;letter-spacing:0.267px;text-shadow:0 0 .4px #fff;">Check monitoring overview</span>
<svg style="left:1410.0px;top:199.0px" width="60" height="60" viewBox="0 0 60 60"><circle cx="30.5" cy="29.5" r="22" fill="#fff" stroke="#c9efe0" stroke-width="1"/><g opacity="0.5"><path d="M17.6 27 C17.6 19.5 23.5 15.4 31 15.4 C38.5 15.4 44.6 19.5 44.6 27" fill="none" stroke="#1a9d7c" stroke-width="0.9"/><rect x="15" y="26" width="3" height="7.4" rx="1.2" fill="#1fcc9c"/><rect x="44" y="26" width="3" height="6.8" rx="1.2" fill="#1fcc9c"/><path d="M17.4 33 C17.4 35.5 17.8 37 18.6 38" fill="none" stroke="#1a9d7c" stroke-width="0.8"/><path d="M18.2 37 L20.3 39.6" stroke="#1a9d7c" stroke-width="2" stroke-linecap="round"/><ellipse cx="31" cy="29.8" rx="11.6" ry="12" fill="#1fcc9c"/><path d="M34.5 40.6 L40.2 43.2 L39.8 37.6 Z" fill="#1fcc9c"/><path d="M22.4 30.2 C22.4 25.6 26 23.3 31 23.3 C36 23.3 39.7 25.6 39.7 30.2 C39.7 33.8 36.5 35.2 31 35.2 C25.5 35.2 22.4 33.8 22.4 30.2Z" fill="#fff"/><circle cx="26.7" cy="29" r="1.45" fill="#1fcc9c"/><circle cx="35.4" cy="29" r="1.45" fill="#1fcc9c"/><path d="M28.9 31.3 H33.1 A2.1 2.1 0 0 1 28.9 31.3Z" fill="#1fcc9c"/></g></svg>
<div class="a" style="left:1473px;top:206px;width:392px;height:424.5px;border:1px solid #dfe5ea;border-radius:20px;background:#fff"></div>
<span class="t" style="left:1494.00px;top:229.31px;font-size:17px;line-height:17px;color:#777;letter-spacing:0.266px;-webkit-text-stroke:.4px #777;">I have found the relevant options below.</span>
<span class="t" style="left:1494.00px;top:250.41px;font-size:17px;line-height:17px;color:#777;letter-spacing:0.018px;-webkit-text-stroke:.4px #777;">Please select one to proceed.</span>
<div class="a" style="left:1494px;top:281px;width:290px;height:43px;border:1px solid #93d5b2;border-radius:4px"></div>
<span class="t" style="left:1510.00px;top:294.21px;font-size:17px;line-height:17px;color:#93d5b2;letter-spacing:0.041px;">Display the most recent 10 alarms</span>
<div class="a" style="left:1494px;top:334px;width:326px;height:43px;border:1px solid #93d5b2;border-radius:4px"></div>
<span class="t" style="left:1510.00px;top:347.21px;font-size:17px;line-height:17px;color:#93d5b2;letter-spacing:0.080px;">Display the top 10 problematic devices</span>
<div class="a" style="left:1494px;top:387px;width:257px;height:43px;border:1px solid #93d5b2;border-radius:4px"></div>
<span class="t" style="left:1510.00px;top:400.21px;font-size:17px;line-height:17px;color:#93d5b2;letter-spacing:0.127px;">View alarm severity summary</span>
<div class="a" style="left:1494px;top:440px;width:235px;height:43px;border:1px solid #93d5b2;border-radius:4px"></div>
<span class="t" style="left:1510.00px;top:453.21px;font-size:17px;line-height:17px;color:#93d5b2;letter-spacing:0.074px;">View compliance summary</span>
<div class="a" style="left:1494px;top:493px;width:293.5px;height:43px;border:1px solid #93d5b2;border-radius:4px"></div>
<span class="t" style="left:1510.00px;top:506.21px;font-size:17px;line-height:17px;color:#93d5b2;letter-spacing:0.036px;">Display the latest 20 down devices</span>
<div class="a" style="left:1494px;top:546px;width:350px;height:64px;border:1px solid #93d5b2;border-radius:4px"></div>
<span class="t" style="left:1510.00px;top:559.11px;font-size:17px;line-height:17px;color:#93d5b2;letter-spacing:0.046px;">Show the most recent 100 discovered</span>
<span class="t" style="left:1510.00px;top:580.21px;font-size:17px;line-height:17px;color:#93d5b2;letter-spacing:-0.190px;">devices</span>
<div class="a" style="left:1576px;top:656px;width:289px;height:40.5px;border-radius:20px;background:#47bb7f"></div>
<span class="t" style="left:1591.60px;top:668.11px;font-size:17px;line-height:17px;color:#fff;letter-spacing:0.031px;text-shadow:0 0 .4px #fff;">Display the most recent 10 alarms</span>
<svg style="left:1410.0px;top:715.0px" width="60" height="60" viewBox="0 0 60 60"><circle cx="30.5" cy="29.5" r="22" fill="#fff" stroke="#a9e2c8" stroke-width="1"/><g opacity="1.0"><path d="M17.6 27 C17.6 19.5 23.5 15.4 31 15.4 C38.5 15.4 44.6 19.5 44.6 27" fill="none" stroke="#1a9d7c" stroke-width="0.9"/><rect x="15" y="26" width="3" height="7.4" rx="1.2" fill="#1fcc9c"/><rect x="44" y="26" width="3" height="6.8" rx="1.2" fill="#1fcc9c"/><path d="M17.4 33 C17.4 35.5 17.8 37 18.6 38" fill="none" stroke="#1a9d7c" stroke-width="0.8"/><path d="M18.2 37 L20.3 39.6" stroke="#1a9d7c" stroke-width="2" stroke-linecap="round"/><ellipse cx="31" cy="29.8" rx="11.6" ry="12" fill="#1fcc9c"/><path d="M34.5 40.6 L40.2 43.2 L39.8 37.6 Z" fill="#1fcc9c"/><path d="M22.4 30.2 C22.4 25.6 26 23.3 31 23.3 C36 23.3 39.7 25.6 39.7 30.2 C39.7 33.8 36.5 35.2 31 35.2 C25.5 35.2 22.4 33.8 22.4 30.2Z" fill="#fff"/><circle cx="26.7" cy="29" r="1.45" fill="#1fcc9c"/><circle cx="35.4" cy="29" r="1.45" fill="#1fcc9c"/><path d="M28.9 31.3 H33.1 A2.1 2.1 0 0 1 28.9 31.3Z" fill="#1fcc9c"/></g></svg>
<div class="a" style="left:1473px;top:722px;width:392px;height:250px;clip-path:inset(0 0 0 0);overflow:hidden"><div class="a" style="left:0;top:0;width:392px;height:300px;border:1px solid #c9d3df;border-radius:20px;background:#fff"></div></div>
<div class="a" style="left:1494px;top:743px;width:350px;height:229px;border:1px solid #d8d8d8;border-bottom:none;background:#fff"></div>
<div class="a" style="left:1495px;top:744px;width:348px;height:52px;background:#eee;border-bottom:1px solid #d8d8d8"></div>
<span class="t" style="left:1507.30px;top:755.06px;font-size:18px;line-height:18px;color:#222;letter-spacing:-0.462px;text-shadow:0 0 .4px #222;">Alarm Message</span>
<div class="a" style="left:1507px;top:804px;width:4px;height:99.5px;background:#e6d85c"></div>
<span class="t" style="left:1519.80px;top:809.88px;font-size:15.5px;line-height:15.5px;color:#111;font-weight:700;letter-spacing:-0.420px;">Device not responding: Probably down or</span>
<span class="t" style="left:1519.80px;top:834.88px;font-size:15.5px;line-height:15.5px;color:#111;font-weight:700;letter-spacing:-0.896px;">busy</span>
<div class="a" style="left:1519px;top:857px;width:111px;height:22.5px;background:#c3c3c3"></div>
<span class="t" style="left:1520.00px;top:885.18px;font-size:15.5px;line-height:15.5px;color:#333;letter-spacing:0.134px;">11 Feb 2025 05:59:17 PM IST</span>
<div class="a" style="left:1495px;top:913px;width:348px;height:1px;background:#dedede"></div>
<div class="a" style="left:1507px;top:923.5px;width:4px;height:48.5px;background:#e6d85c"></div>
<span class="t" style="left:1519.80px;top:928.58px;font-size:15.5px;line-height:15.5px;color:#111;font-weight:700;letter-spacing:-0.407px;">HostRemovedEvent:Removed host</span>
<div class="a" style="left:1518px;top:952.5px;width:118px;height:17px;background:#c3c3c3"></div>
<span class="t" style="left:1637.60px;top:953.48px;font-size:15.5px;line-height:15.5px;color:#111;font-weight:700;letter-spacing:-0.189px;">in Datacenter 1</span>
</body></html>
